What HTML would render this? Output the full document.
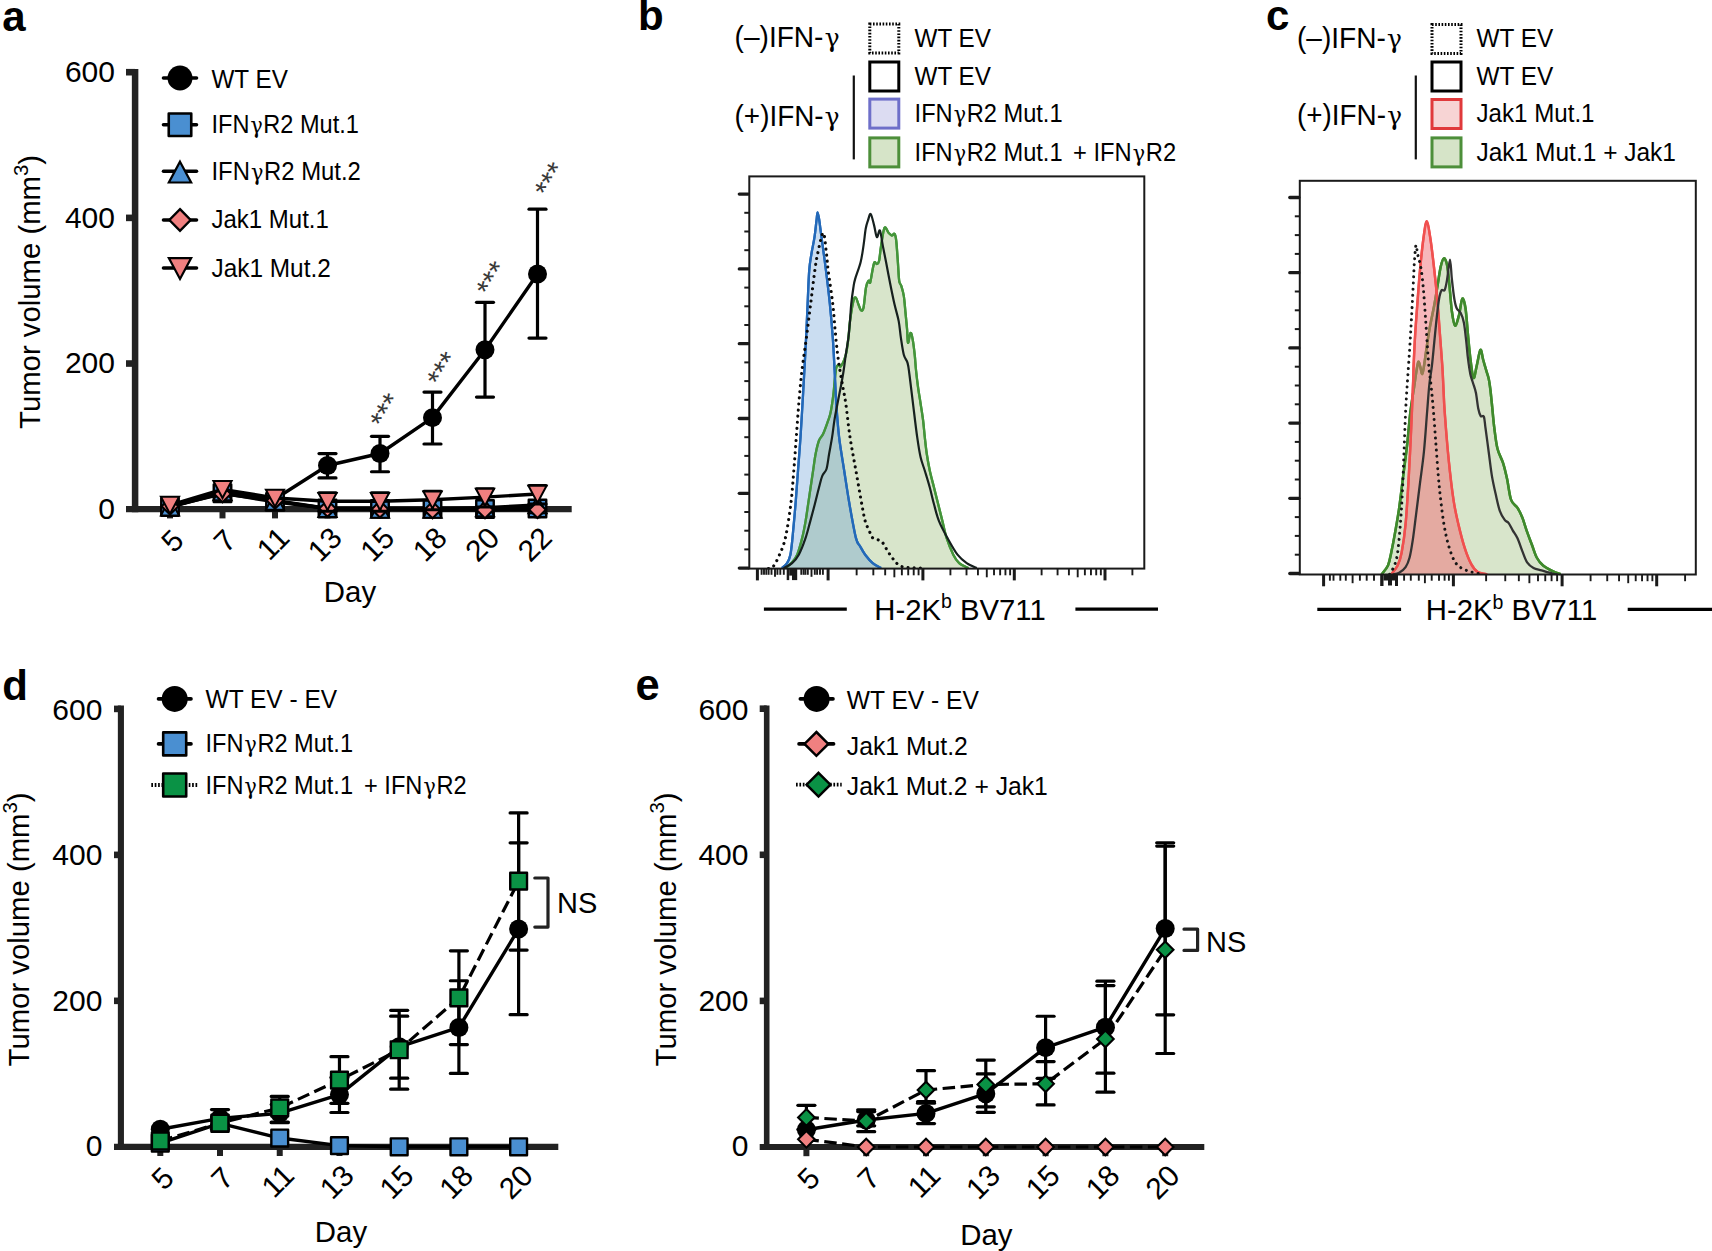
<!DOCTYPE html>
<html lang="en">
<head>
<meta charset="utf-8">
<title>Figure</title>
<style>
html,body{margin:0;padding:0;background:#fff;}
body{width:1712px;height:1251px;overflow:hidden;}
svg{display:block;font-family:'Liberation Sans', Arial, Helvetica, sans-serif;}
</style>
</head>
<body>
<svg width="1712" height="1251" viewBox="0 0 1712 1251">
<rect width="1712" height="1251" fill="#ffffff"/>
<text x="2.2" y="30.8" font-size="42" text-anchor="start" font-weight="bold" fill="#000" >a</text>
<line x1="135.1" y1="68.9" x2="135.1" y2="512.35" stroke="#222222" stroke-width="6.5" />
<line x1="126" y1="509.2" x2="571.7" y2="509.2" stroke="#222222" stroke-width="6.3" />
<text x="115" y="518.5" font-size="30" text-anchor="end" font-weight="normal" fill="#000" >0</text>
<line x1="126" y1="363.53" x2="135.1" y2="363.53" stroke="#222222" stroke-width="6.6" />
<text x="115" y="373.13" font-size="30" text-anchor="end" font-weight="normal" fill="#000" >200</text>
<line x1="126" y1="217.87" x2="135.1" y2="217.87" stroke="#222222" stroke-width="6.6" />
<text x="115" y="227.77" font-size="30" text-anchor="end" font-weight="normal" fill="#000" >400</text>
<line x1="126" y1="72.2" x2="135.1" y2="72.2" stroke="#222222" stroke-width="6.6" />
<text x="115" y="82.4" font-size="30" text-anchor="end" font-weight="normal" fill="#000" >600</text>
<line x1="170" y1="509.2" x2="170" y2="518.4" stroke="#222222" stroke-width="6" />
<text transform="translate(185.4 542.2) rotate(-45)" font-size="29.8" text-anchor="end" fill="#000" >5</text>
<line x1="222.5" y1="509.2" x2="222.5" y2="518.4" stroke="#222222" stroke-width="6" />
<text transform="translate(237.9 542.2) rotate(-45)" font-size="29.8" text-anchor="end" fill="#000" >7</text>
<line x1="275" y1="509.2" x2="275" y2="518.4" stroke="#222222" stroke-width="6" />
<text transform="translate(291.2 539.8) rotate(-45)" font-size="29.8" text-anchor="end" fill="#000" >11</text>
<line x1="327.5" y1="509.2" x2="327.5" y2="518.4" stroke="#222222" stroke-width="6" />
<text transform="translate(343.7 539.8) rotate(-45)" font-size="29.8" text-anchor="end" fill="#000" >13</text>
<line x1="380" y1="509.2" x2="380" y2="518.4" stroke="#222222" stroke-width="6" />
<text transform="translate(396.2 539.8) rotate(-45)" font-size="29.8" text-anchor="end" fill="#000" >15</text>
<line x1="432.5" y1="509.2" x2="432.5" y2="518.4" stroke="#222222" stroke-width="6" />
<text transform="translate(448.7 539.8) rotate(-45)" font-size="29.8" text-anchor="end" fill="#000" >18</text>
<line x1="485" y1="509.2" x2="485" y2="518.4" stroke="#222222" stroke-width="6" />
<text transform="translate(501.2 539.8) rotate(-45)" font-size="29.8" text-anchor="end" fill="#000" >20</text>
<line x1="537.5" y1="509.2" x2="537.5" y2="518.4" stroke="#222222" stroke-width="6" />
<text transform="translate(553.7 539.8) rotate(-45)" font-size="29.8" text-anchor="end" fill="#000" >22</text>
<text transform="translate(40.4 291.9) rotate(-90)" font-size="29.3" text-anchor="middle" fill="#000" >Tumor volume (mm<tspan font-size="20.5" dy="-12">3</tspan><tspan dy="12">)</tspan></text>
<text x="350" y="601.7" font-size="29.4" text-anchor="middle" font-weight="normal" fill="#000" >Day</text>
<line x1="327.5" y1="453.56" x2="327.5" y2="477.88" stroke="#000" stroke-width="3.2" />
<line x1="319" y1="453.56" x2="336" y2="453.56" stroke="#000" stroke-width="3.2" stroke-linecap="round"/>
<line x1="319" y1="477.88" x2="336" y2="477.88" stroke="#000" stroke-width="3.2" stroke-linecap="round"/>
<line x1="380" y1="436.37" x2="380" y2="471.76" stroke="#000" stroke-width="3.2" />
<line x1="371.5" y1="436.37" x2="388.5" y2="436.37" stroke="#000" stroke-width="3.2" stroke-linecap="round"/>
<line x1="371.5" y1="471.76" x2="388.5" y2="471.76" stroke="#000" stroke-width="3.2" stroke-linecap="round"/>
<line x1="432.5" y1="392.08" x2="432.5" y2="444.01" stroke="#000" stroke-width="3.2" />
<line x1="424" y1="392.08" x2="441" y2="392.08" stroke="#000" stroke-width="3.2" stroke-linecap="round"/>
<line x1="424" y1="444.01" x2="441" y2="444.01" stroke="#000" stroke-width="3.2" stroke-linecap="round"/>
<line x1="485" y1="302.35" x2="485" y2="397.04" stroke="#000" stroke-width="3.2" />
<line x1="476.5" y1="302.35" x2="493.5" y2="302.35" stroke="#000" stroke-width="3.2" stroke-linecap="round"/>
<line x1="476.5" y1="397.04" x2="493.5" y2="397.04" stroke="#000" stroke-width="3.2" stroke-linecap="round"/>
<line x1="537.5" y1="209.13" x2="537.5" y2="338.04" stroke="#000" stroke-width="3.2" />
<line x1="529" y1="209.13" x2="546" y2="209.13" stroke="#000" stroke-width="3.2" stroke-linecap="round"/>
<line x1="529" y1="338.04" x2="546" y2="338.04" stroke="#000" stroke-width="3.2" stroke-linecap="round"/>
<path d="M170 505.56 L222.5 491.72 L275 499 L327.5 465.5 L380 453.48 L432.5 417.65 L485 349.69 L537.5 273.95" fill="none" stroke="#000" stroke-width="3.4" stroke-linejoin="round"  />
<circle cx="170" cy="505.56" r="9.5" fill="#000"/>
<circle cx="222.5" cy="491.72" r="9.5" fill="#000"/>
<circle cx="275" cy="499" r="9.5" fill="#000"/>
<circle cx="327.5" cy="465.5" r="9.5" fill="#000"/>
<circle cx="380" cy="453.48" r="9.5" fill="#000"/>
<circle cx="432.5" cy="417.65" r="9.5" fill="#000"/>
<circle cx="485" cy="349.69" r="9.5" fill="#000"/>
<circle cx="537.5" cy="273.95" r="9.5" fill="#000"/>
<path d="M170 507.01 L222.5 493.18 L275 501.92 L327.5 508.47 L380 508.84 L432.5 508.84 L485 508.98 L537.5 508.47" fill="none" stroke="#000" stroke-width="3.4" stroke-linejoin="round"  />
<rect x="161.25" y="498.26" width="17.5" height="17.5" fill="#4a8fd1" stroke="#000" stroke-width="2.4" stroke-linejoin="round"/>
<rect x="213.75" y="484.43" width="17.5" height="17.5" fill="#4a8fd1" stroke="#000" stroke-width="2.4" stroke-linejoin="round"/>
<rect x="266.25" y="493.17" width="17.5" height="17.5" fill="#4a8fd1" stroke="#000" stroke-width="2.4" stroke-linejoin="round"/>
<rect x="318.75" y="499.72" width="17.5" height="17.5" fill="#4a8fd1" stroke="#000" stroke-width="2.4" stroke-linejoin="round"/>
<rect x="371.25" y="500.09" width="17.5" height="17.5" fill="#4a8fd1" stroke="#000" stroke-width="2.4" stroke-linejoin="round"/>
<rect x="423.75" y="500.09" width="17.5" height="17.5" fill="#4a8fd1" stroke="#000" stroke-width="2.4" stroke-linejoin="round"/>
<rect x="476.25" y="500.23" width="17.5" height="17.5" fill="#4a8fd1" stroke="#000" stroke-width="2.4" stroke-linejoin="round"/>
<rect x="528.75" y="499.72" width="17.5" height="17.5" fill="#4a8fd1" stroke="#000" stroke-width="2.4" stroke-linejoin="round"/>
<path d="M170 507.01 L222.5 491.72 L275 501.19 L327.5 508.47 L380 509.2 L432.5 509.2 L485 507.74 L537.5 504.83" fill="none" stroke="#000" stroke-width="3.4" stroke-linejoin="round"  />
<path d="M170 498.51 L179.1 515.51 L160.9 515.51 Z" fill="#4a8fd1" stroke="#000" stroke-width="2" stroke-linejoin="miter" stroke-miterlimit="6"/>
<path d="M222.5 483.22 L231.6 500.22 L213.4 500.22 Z" fill="#4a8fd1" stroke="#000" stroke-width="2" stroke-linejoin="miter" stroke-miterlimit="6"/>
<path d="M275 492.69 L284.1 509.69 L265.9 509.69 Z" fill="#4a8fd1" stroke="#000" stroke-width="2" stroke-linejoin="miter" stroke-miterlimit="6"/>
<path d="M327.5 499.97 L336.6 516.97 L318.4 516.97 Z" fill="#4a8fd1" stroke="#000" stroke-width="2" stroke-linejoin="miter" stroke-miterlimit="6"/>
<path d="M380 500.7 L389.1 517.7 L370.9 517.7 Z" fill="#4a8fd1" stroke="#000" stroke-width="2" stroke-linejoin="miter" stroke-miterlimit="6"/>
<path d="M432.5 500.7 L441.6 517.7 L423.4 517.7 Z" fill="#4a8fd1" stroke="#000" stroke-width="2" stroke-linejoin="miter" stroke-miterlimit="6"/>
<path d="M485 499.24 L494.1 516.24 L475.9 516.24 Z" fill="#4a8fd1" stroke="#000" stroke-width="2" stroke-linejoin="miter" stroke-miterlimit="6"/>
<path d="M537.5 496.33 L546.6 513.33 L528.4 513.33 Z" fill="#4a8fd1" stroke="#000" stroke-width="2" stroke-linejoin="miter" stroke-miterlimit="6"/>
<path d="M170 506.29 L222.5 493.9 L275 500.46 L327.5 508.47 L380 509.2 L432.5 509.93 L485 509.93 L537.5 509.71" fill="none" stroke="#000" stroke-width="3.4" stroke-linejoin="round"  />
<path d="M170 497.99 L178.3 506.29 L170 514.59 L161.7 506.29 Z" fill="#f08080" stroke="#000" stroke-width="2.1" stroke-linejoin="miter" stroke-miterlimit="6"/>
<path d="M222.5 485.6 L230.8 493.9 L222.5 502.2 L214.2 493.9 Z" fill="#f08080" stroke="#000" stroke-width="2.1" stroke-linejoin="miter" stroke-miterlimit="6"/>
<path d="M275 492.16 L283.3 500.46 L275 508.76 L266.7 500.46 Z" fill="#f08080" stroke="#000" stroke-width="2.1" stroke-linejoin="miter" stroke-miterlimit="6"/>
<path d="M327.5 500.17 L335.8 508.47 L327.5 516.77 L319.2 508.47 Z" fill="#f08080" stroke="#000" stroke-width="2.1" stroke-linejoin="miter" stroke-miterlimit="6"/>
<path d="M380 500.9 L388.3 509.2 L380 517.5 L371.7 509.2 Z" fill="#f08080" stroke="#000" stroke-width="2.1" stroke-linejoin="miter" stroke-miterlimit="6"/>
<path d="M432.5 501.63 L440.8 509.93 L432.5 518.23 L424.2 509.93 Z" fill="#f08080" stroke="#000" stroke-width="2.1" stroke-linejoin="miter" stroke-miterlimit="6"/>
<path d="M485 501.63 L493.3 509.93 L485 518.23 L476.7 509.93 Z" fill="#f08080" stroke="#000" stroke-width="2.1" stroke-linejoin="miter" stroke-miterlimit="6"/>
<path d="M537.5 501.41 L545.8 509.71 L537.5 518.01 L529.2 509.71 Z" fill="#f08080" stroke="#000" stroke-width="2.1" stroke-linejoin="miter" stroke-miterlimit="6"/>
<line x1="327.5" y1="492.79" x2="327.5" y2="511.19" stroke="#000" stroke-width="3" />
<line x1="318.85" y1="492.79" x2="336.15" y2="492.79" stroke="#000" stroke-width="3" stroke-linecap="round"/>
<line x1="318.85" y1="511.19" x2="336.15" y2="511.19" stroke="#000" stroke-width="3" stroke-linecap="round"/>
<line x1="380" y1="492.79" x2="380" y2="511.19" stroke="#000" stroke-width="3" />
<line x1="371.35" y1="492.79" x2="388.65" y2="492.79" stroke="#000" stroke-width="3" stroke-linecap="round"/>
<line x1="371.35" y1="511.19" x2="388.65" y2="511.19" stroke="#000" stroke-width="3" stroke-linecap="round"/>
<line x1="432.5" y1="491.33" x2="432.5" y2="509.73" stroke="#000" stroke-width="3" />
<line x1="423.85" y1="491.33" x2="441.15" y2="491.33" stroke="#000" stroke-width="3" stroke-linecap="round"/>
<line x1="423.85" y1="509.73" x2="441.15" y2="509.73" stroke="#000" stroke-width="3" stroke-linecap="round"/>
<line x1="485" y1="488.71" x2="485" y2="507.11" stroke="#000" stroke-width="3" />
<line x1="476.35" y1="488.71" x2="493.65" y2="488.71" stroke="#000" stroke-width="3" stroke-linecap="round"/>
<line x1="476.35" y1="507.11" x2="493.65" y2="507.11" stroke="#000" stroke-width="3" stroke-linecap="round"/>
<line x1="537.5" y1="485.58" x2="537.5" y2="503.98" stroke="#000" stroke-width="3" />
<line x1="528.85" y1="485.58" x2="546.15" y2="485.58" stroke="#000" stroke-width="3" stroke-linecap="round"/>
<line x1="528.85" y1="503.98" x2="546.15" y2="503.98" stroke="#000" stroke-width="3" stroke-linecap="round"/>
<path d="M170 505.12 L222.5 489.32 L275 497.98 L327.5 501.19 L380 501.19 L432.5 499.73 L485 497.11 L537.5 493.98" fill="none" stroke="#000" stroke-width="3.4" stroke-linejoin="round"  />
<path d="M160.9 496.82 L179.1 496.82 L170 513.82 Z" fill="#f08080" stroke="#000" stroke-width="2" stroke-linejoin="miter" stroke-miterlimit="6"/>
<path d="M213.4 481.02 L231.6 481.02 L222.5 498.02 Z" fill="#f08080" stroke="#000" stroke-width="2" stroke-linejoin="miter" stroke-miterlimit="6"/>
<path d="M265.9 489.68 L284.1 489.68 L275 506.68 Z" fill="#f08080" stroke="#000" stroke-width="2" stroke-linejoin="miter" stroke-miterlimit="6"/>
<path d="M318.4 492.89 L336.6 492.89 L327.5 509.89 Z" fill="#f08080" stroke="#000" stroke-width="2" stroke-linejoin="miter" stroke-miterlimit="6"/>
<path d="M370.9 492.89 L389.1 492.89 L380 509.89 Z" fill="#f08080" stroke="#000" stroke-width="2" stroke-linejoin="miter" stroke-miterlimit="6"/>
<path d="M423.4 491.43 L441.6 491.43 L432.5 508.43 Z" fill="#f08080" stroke="#000" stroke-width="2" stroke-linejoin="miter" stroke-miterlimit="6"/>
<path d="M475.9 488.81 L494.1 488.81 L485 505.81 Z" fill="#f08080" stroke="#000" stroke-width="2" stroke-linejoin="miter" stroke-miterlimit="6"/>
<path d="M528.4 485.68 L546.6 485.68 L537.5 502.68 Z" fill="#f08080" stroke="#000" stroke-width="2" stroke-linejoin="miter" stroke-miterlimit="6"/>
<text transform="translate(380.1 407.4) rotate(-59)" font-size="29.5" text-anchor="middle" fill="#3a3a3a" y="17.2">***</text>
<text transform="translate(437.2 365.7) rotate(-59)" font-size="29.5" text-anchor="middle" fill="#3a3a3a" y="17.2">***</text>
<text transform="translate(486.3 275.4) rotate(-59)" font-size="29.5" text-anchor="middle" fill="#3a3a3a" y="17.2">***</text>
<text transform="translate(544.6 176.4) rotate(-59)" font-size="29.5" text-anchor="middle" fill="#3a3a3a" y="17.2">***</text>
<line x1="163.5" y1="78" x2="196.5" y2="78" stroke="#000" stroke-width="3.6" stroke-linecap="round"/>
<circle cx="180" cy="78" r="12.5" fill="#000"/>
<text x="211.5" y="87.6" font-size="25" text-anchor="start" font-weight="normal" fill="#000" textLength="76.3" lengthAdjust="spacingAndGlyphs" >WT EV</text>
<line x1="163.5" y1="124.8" x2="196.5" y2="124.8" stroke="#000" stroke-width="3.6" stroke-linecap="round"/>
<rect x="168.75" y="113.55" width="22.5" height="22.5" fill="#4a8fd1" stroke="#000" stroke-width="2.6" stroke-linejoin="round"/>
<text x="211.5" y="132.6" font-size="25" text-anchor="start" font-weight="normal" fill="#000" textLength="147.3" lengthAdjust="spacingAndGlyphs" >IFN<tspan font-family="'DejaVu Math TeX Gyre', 'DejaVu Serif', serif" font-size="22">γ</tspan>R2 Mut.1</text>
<line x1="163.5" y1="171.3" x2="196.5" y2="171.3" stroke="#000" stroke-width="3.6" stroke-linecap="round"/>
<path d="M180 161.7 L191.15 182.5 L168.85 182.5 Z" fill="#4a8fd1" stroke="#000" stroke-width="2.2" stroke-linejoin="miter" stroke-miterlimit="6"/>
<text x="211.5" y="180.2" font-size="25" text-anchor="start" font-weight="normal" fill="#000" textLength="149.3" lengthAdjust="spacingAndGlyphs" >IFN<tspan font-family="'DejaVu Math TeX Gyre', 'DejaVu Serif', serif" font-size="22">γ</tspan>R2 Mut.2</text>
<line x1="163.5" y1="220" x2="196.5" y2="220" stroke="#000" stroke-width="3.6" stroke-linecap="round"/>
<path d="M180 209.2 L190.6 220 L180 230.8 L169.4 220 Z" fill="#f08080" stroke="#000" stroke-width="2.4" stroke-linejoin="miter" stroke-miterlimit="6"/>
<text x="211.5" y="228.4" font-size="25" text-anchor="start" font-weight="normal" fill="#000" textLength="117.3" lengthAdjust="spacingAndGlyphs" >Jak1 Mut.1</text>
<line x1="163.5" y1="268" x2="196.5" y2="268" stroke="#000" stroke-width="3.6" stroke-linecap="round"/>
<path d="M168.85 258.1 L191.15 258.1 L180 278.9 Z" fill="#f08080" stroke="#000" stroke-width="2.2" stroke-linejoin="miter" stroke-miterlimit="6"/>
<text x="211.5" y="276.8" font-size="25" text-anchor="start" font-weight="normal" fill="#000" textLength="119.3" lengthAdjust="spacingAndGlyphs" >Jak1 Mut.2</text>
<text x="638" y="29.8" font-size="42" font-weight="bold">b</text>
<clipPath id="cb"><rect x="749.3" y="176.4" width="395" height="393.2"/></clipPath>
<g clip-path="url(#cb)">
<path d="M785.4 568.1 C786.38 567.27 789.33 565.33 791.3 563.1 C793.27 560.87 795.38 558.9 797.2 554.7 C799.02 550.5 800.8 543.5 802.2 537.9 C803.6 532.3 804.62 526.7 805.6 521.1 C806.58 515.5 807.27 509.9 808.1 504.3 C808.93 498.7 809.77 493.1 810.6 487.5 C811.43 481.9 812.27 476.28 813.1 470.7 C813.93 465.12 814.62 459.03 815.6 454 C816.58 448.97 817.73 443.87 819 440.5 C820.27 437.13 821.67 437.15 823.2 433.8 C824.73 430.45 826.95 424.03 828.2 420.4 C829.45 416.77 829.85 416.2 830.7 412 C831.55 407.8 832.6 400.8 833.3 395.2 C834 389.6 834.42 382.93 834.9 378.4 C835.38 373.87 835.63 370.27 836.2 368 C836.77 365.73 837.5 365.13 838.3 364.8 C839.1 364.47 839.75 367.68 841 366 C842.25 364.32 844.57 359.38 845.8 354.7 C847.03 350.02 847.7 343.5 848.4 337.9 C849.1 332.3 849.17 327.25 850 321.1 C850.83 314.95 852.42 304.92 853.4 301 C854.38 297.08 855.07 297.05 855.9 297.6 C856.73 298.15 857.55 302.2 858.4 304.3 C859.25 306.4 860.15 309.63 861 310.2 C861.85 310.77 862.67 311.48 863.5 307.7 C864.33 303.92 865.17 291.98 866 287.5 C866.83 283.02 867.8 281.63 868.5 280.8 C869.2 279.97 869.55 284.18 870.2 282.5 C870.85 280.82 871.7 274.07 872.4 270.7 C873.1 267.33 873.65 263.42 874.4 262.3 C875.15 261.18 876.12 264.27 876.9 264 C877.68 263.73 878.4 263.77 879.1 260.7 C879.8 257.63 880.2 251.07 881.1 245.6 C882 240.13 883.23 230 884.5 227.9 C885.77 225.8 887.45 231.73 888.7 233 C889.95 234.27 891.03 235.37 892 235.5 C892.97 235.63 893.8 232.97 894.5 233.8 C895.2 234.63 895.63 235.75 896.2 240.5 C896.77 245.25 897.4 255.58 897.9 262.3 C898.4 269.02 898.63 276.87 899.2 280.8 C899.77 284.73 900.53 283.38 901.3 285.9 C902.07 288.42 903.1 291.43 903.8 295.9 C904.5 300.37 904.95 307.1 905.5 312.7 C906.05 318.3 906.68 324.47 907.1 329.5 C907.52 334.53 907.43 342.33 908 342.9 C908.57 343.47 909.72 333.45 910.5 332.9 C911.28 332.35 912 335.97 912.7 339.6 C913.4 343.23 914.15 349.63 914.7 354.7 C915.25 359.77 915.45 364.65 916 370 C916.55 375.35 917.23 381.2 918 386.8 C918.77 392.4 919.75 398 920.6 403.6 C921.45 409.2 922.4 414.8 923.1 420.4 C923.8 426 924.18 431.6 924.8 437.2 C925.42 442.8 925.97 448.42 926.8 454 C927.63 459.58 928.6 465.12 929.8 470.7 C931 476.28 932.6 481.9 934 487.5 C935.4 493.1 936.8 498.7 938.2 504.3 C939.6 509.9 941 515.5 942.4 521.1 C943.8 526.7 944.78 532.3 946.6 537.9 C948.42 543.5 951.2 550.5 953.3 554.7 C955.4 558.9 956.68 560.87 959.2 563.1 C961.72 565.33 966.87 567.27 968.4 568.1 L968.4 568.6 L785.4 568.6 Z" fill="#d8e5cb" fill-opacity="1" stroke="none"/>
<path d="M785.4 568.1 C786.38 567.27 789.33 565.33 791.3 563.1 C793.27 560.87 795.38 558.9 797.2 554.7 C799.02 550.5 800.8 543.5 802.2 537.9 C803.6 532.3 804.62 526.7 805.6 521.1 C806.58 515.5 807.27 509.9 808.1 504.3 C808.93 498.7 809.77 493.1 810.6 487.5 C811.43 481.9 812.27 476.28 813.1 470.7 C813.93 465.12 814.62 459.03 815.6 454 C816.58 448.97 817.73 443.87 819 440.5 C820.27 437.13 821.67 437.15 823.2 433.8 C824.73 430.45 826.95 424.03 828.2 420.4 C829.45 416.77 829.85 416.2 830.7 412 C831.55 407.8 832.6 400.8 833.3 395.2 C834 389.6 834.42 382.93 834.9 378.4 C835.38 373.87 835.63 370.27 836.2 368 C836.77 365.73 837.5 365.13 838.3 364.8 C839.1 364.47 839.75 367.68 841 366 C842.25 364.32 844.57 359.38 845.8 354.7 C847.03 350.02 847.7 343.5 848.4 337.9 C849.1 332.3 849.17 327.25 850 321.1 C850.83 314.95 852.42 304.92 853.4 301 C854.38 297.08 855.07 297.05 855.9 297.6 C856.73 298.15 857.55 302.2 858.4 304.3 C859.25 306.4 860.15 309.63 861 310.2 C861.85 310.77 862.67 311.48 863.5 307.7 C864.33 303.92 865.17 291.98 866 287.5 C866.83 283.02 867.8 281.63 868.5 280.8 C869.2 279.97 869.55 284.18 870.2 282.5 C870.85 280.82 871.7 274.07 872.4 270.7 C873.1 267.33 873.65 263.42 874.4 262.3 C875.15 261.18 876.12 264.27 876.9 264 C877.68 263.73 878.4 263.77 879.1 260.7 C879.8 257.63 880.2 251.07 881.1 245.6 C882 240.13 883.23 230 884.5 227.9 C885.77 225.8 887.45 231.73 888.7 233 C889.95 234.27 891.03 235.37 892 235.5 C892.97 235.63 893.8 232.97 894.5 233.8 C895.2 234.63 895.63 235.75 896.2 240.5 C896.77 245.25 897.4 255.58 897.9 262.3 C898.4 269.02 898.63 276.87 899.2 280.8 C899.77 284.73 900.53 283.38 901.3 285.9 C902.07 288.42 903.1 291.43 903.8 295.9 C904.5 300.37 904.95 307.1 905.5 312.7 C906.05 318.3 906.68 324.47 907.1 329.5 C907.52 334.53 907.43 342.33 908 342.9 C908.57 343.47 909.72 333.45 910.5 332.9 C911.28 332.35 912 335.97 912.7 339.6 C913.4 343.23 914.15 349.63 914.7 354.7 C915.25 359.77 915.45 364.65 916 370 C916.55 375.35 917.23 381.2 918 386.8 C918.77 392.4 919.75 398 920.6 403.6 C921.45 409.2 922.4 414.8 923.1 420.4 C923.8 426 924.18 431.6 924.8 437.2 C925.42 442.8 925.97 448.42 926.8 454 C927.63 459.58 928.6 465.12 929.8 470.7 C931 476.28 932.6 481.9 934 487.5 C935.4 493.1 936.8 498.7 938.2 504.3 C939.6 509.9 941 515.5 942.4 521.1 C943.8 526.7 944.78 532.3 946.6 537.9 C948.42 543.5 951.2 550.5 953.3 554.7 C955.4 558.9 956.68 560.87 959.2 563.1 C961.72 565.33 966.87 567.27 968.4 568.1" fill="none" stroke="#44953a" stroke-width="2.3" stroke-linejoin="round"/>
<path d="M782 568.1 C782.85 567.27 785.7 565.33 787.1 563.1 C788.5 560.87 789.5 558.9 790.4 554.7 C791.3 550.5 791.65 546.3 792.5 537.9 C793.35 529.5 794.58 515.5 795.5 504.3 C796.42 493.1 797.17 481.88 798 470.7 C798.83 459.52 799.75 448.38 800.5 437.2 C801.25 426.02 801.85 414.8 802.5 403.6 C803.15 392.4 803.8 380.95 804.4 370 C805 359.05 805.57 348.85 806.1 337.9 C806.63 326.95 807.08 315.5 807.6 304.3 C808.12 293.1 808.57 279.08 809.2 270.7 C809.83 262.32 810.52 259.58 811.4 254 C812.28 248.42 813.65 242.8 814.5 237.2 C815.35 231.6 815.98 224.55 816.5 220.4 C817.02 216.25 817.13 212.3 817.6 212.3 C818.07 212.3 818.65 216.25 819.3 220.4 C819.95 224.55 820.38 228.82 821.5 237.2 C822.62 245.58 824.6 259.52 826 270.7 C827.4 281.88 828.77 293.1 829.9 304.3 C831.03 315.5 832.02 326.95 832.8 337.9 C833.58 348.85 834.02 359.05 834.6 370 C835.18 380.95 835.55 392.4 836.3 403.6 C837.05 414.8 837.78 426.02 839.1 437.2 C840.42 448.38 842.47 459.52 844.2 470.7 C845.93 481.88 847.55 493.1 849.5 504.3 C851.45 515.5 854.13 530.9 855.9 537.9 C857.67 544.9 858.55 543.5 860.1 546.3 C861.65 549.1 863.1 551.9 865.2 554.7 C867.3 557.5 870.05 560.87 872.7 563.1 C875.35 565.33 879.7 567.27 881.1 568.1 L881.1 568.6 L782 568.6 Z" fill="#5a96d2" fill-opacity="0.32" stroke="none"/>
<path d="M782 568.1 C782.85 567.27 785.7 565.33 787.1 563.1 C788.5 560.87 789.5 558.9 790.4 554.7 C791.3 550.5 791.65 546.3 792.5 537.9 C793.35 529.5 794.58 515.5 795.5 504.3 C796.42 493.1 797.17 481.88 798 470.7 C798.83 459.52 799.75 448.38 800.5 437.2 C801.25 426.02 801.85 414.8 802.5 403.6 C803.15 392.4 803.8 380.95 804.4 370 C805 359.05 805.57 348.85 806.1 337.9 C806.63 326.95 807.08 315.5 807.6 304.3 C808.12 293.1 808.57 279.08 809.2 270.7 C809.83 262.32 810.52 259.58 811.4 254 C812.28 248.42 813.65 242.8 814.5 237.2 C815.35 231.6 815.98 224.55 816.5 220.4 C817.02 216.25 817.13 212.3 817.6 212.3 C818.07 212.3 818.65 216.25 819.3 220.4 C819.95 224.55 820.38 228.82 821.5 237.2 C822.62 245.58 824.6 259.52 826 270.7 C827.4 281.88 828.77 293.1 829.9 304.3 C831.03 315.5 832.02 326.95 832.8 337.9 C833.58 348.85 834.02 359.05 834.6 370 C835.18 380.95 835.55 392.4 836.3 403.6 C837.05 414.8 837.78 426.02 839.1 437.2 C840.42 448.38 842.47 459.52 844.2 470.7 C845.93 481.88 847.55 493.1 849.5 504.3 C851.45 515.5 854.13 530.9 855.9 537.9 C857.67 544.9 858.55 543.5 860.1 546.3 C861.65 549.1 863.1 551.9 865.2 554.7 C867.3 557.5 870.05 560.87 872.7 563.1 C875.35 565.33 879.7 567.27 881.1 568.1" fill="none" stroke="#2369b9" stroke-width="2.3" stroke-linejoin="round"/>
<path d="M785.4 568.1 C786.38 567.27 789.33 565.33 791.3 563.1 C793.27 560.87 795.38 558.9 797.2 554.7 C799.02 550.5 800.8 543.5 802.2 537.9 C803.6 532.3 804.62 526.7 805.6 521.1 C806.58 515.5 807.27 509.9 808.1 504.3 C808.93 498.7 809.77 493.1 810.6 487.5 C811.43 481.9 812.27 476.28 813.1 470.7 C813.93 465.12 814.62 459.03 815.6 454 C816.58 448.97 817.73 443.87 819 440.5 C820.27 437.13 821.67 437.15 823.2 433.8 C824.73 430.45 826.95 424.03 828.2 420.4 C829.45 416.77 829.85 416.2 830.7 412 C831.55 407.8 832.6 400.8 833.3 395.2 C834 389.6 834.42 382.93 834.9 378.4 C835.38 373.87 835.63 370.27 836.2 368 C836.77 365.73 837.5 365.13 838.3 364.8 C839.1 364.47 839.75 367.68 841 366 C842.25 364.32 844.57 359.38 845.8 354.7 C847.03 350.02 847.7 343.5 848.4 337.9 C849.1 332.3 849.17 327.25 850 321.1 C850.83 314.95 852.42 304.92 853.4 301 C854.38 297.08 855.07 297.05 855.9 297.6 C856.73 298.15 857.55 302.2 858.4 304.3 C859.25 306.4 860.15 309.63 861 310.2 C861.85 310.77 862.67 311.48 863.5 307.7 C864.33 303.92 865.17 291.98 866 287.5 C866.83 283.02 867.8 281.63 868.5 280.8 C869.2 279.97 869.55 284.18 870.2 282.5 C870.85 280.82 871.7 274.07 872.4 270.7 C873.1 267.33 873.65 263.42 874.4 262.3 C875.15 261.18 876.12 264.27 876.9 264 C877.68 263.73 878.4 263.77 879.1 260.7 C879.8 257.63 880.2 251.07 881.1 245.6 C882 240.13 883.23 230 884.5 227.9 C885.77 225.8 887.45 231.73 888.7 233 C889.95 234.27 891.03 235.37 892 235.5 C892.97 235.63 893.8 232.97 894.5 233.8 C895.2 234.63 895.63 235.75 896.2 240.5 C896.77 245.25 897.4 255.58 897.9 262.3 C898.4 269.02 898.63 276.87 899.2 280.8 C899.77 284.73 900.53 283.38 901.3 285.9 C902.07 288.42 903.1 291.43 903.8 295.9 C904.5 300.37 904.95 307.1 905.5 312.7 C906.05 318.3 906.68 324.47 907.1 329.5 C907.52 334.53 907.43 342.33 908 342.9 C908.57 343.47 909.72 333.45 910.5 332.9 C911.28 332.35 912 335.97 912.7 339.6 C913.4 343.23 914.15 349.63 914.7 354.7 C915.25 359.77 915.45 364.65 916 370 C916.55 375.35 917.23 381.2 918 386.8 C918.77 392.4 919.75 398 920.6 403.6 C921.45 409.2 922.4 414.8 923.1 420.4 C923.8 426 924.18 431.6 924.8 437.2 C925.42 442.8 925.97 448.42 926.8 454 C927.63 459.58 928.6 465.12 929.8 470.7 C931 476.28 932.6 481.9 934 487.5 C935.4 493.1 936.8 498.7 938.2 504.3 C939.6 509.9 941 515.5 942.4 521.1 C943.8 526.7 944.78 532.3 946.6 537.9 C948.42 543.5 951.2 550.5 953.3 554.7 C955.4 558.9 956.68 560.87 959.2 563.1 C961.72 565.33 966.87 567.27 968.4 568.1" fill="none" stroke="#44953a" stroke-width="2.3" stroke-linejoin="round"/>
<path d="M782 568.1 C782.85 567.27 785.7 565.33 787.1 563.1 C788.5 560.87 789.5 558.9 790.4 554.7 C791.3 550.5 791.65 546.3 792.5 537.9 C793.35 529.5 794.58 515.5 795.5 504.3 C796.42 493.1 797.17 481.88 798 470.7 C798.83 459.52 799.75 448.38 800.5 437.2 C801.25 426.02 801.85 414.8 802.5 403.6 C803.15 392.4 803.8 380.95 804.4 370 C805 359.05 805.57 348.85 806.1 337.9 C806.63 326.95 807.08 315.5 807.6 304.3 C808.12 293.1 808.57 279.08 809.2 270.7 C809.83 262.32 810.52 259.58 811.4 254 C812.28 248.42 813.65 242.8 814.5 237.2 C815.35 231.6 815.98 224.55 816.5 220.4 C817.02 216.25 817.13 212.3 817.6 212.3 C818.07 212.3 818.65 216.25 819.3 220.4 C819.95 224.55 820.38 228.82 821.5 237.2 C822.62 245.58 824.6 259.52 826 270.7 C827.4 281.88 828.77 293.1 829.9 304.3 C831.03 315.5 832.02 326.95 832.8 337.9 C833.58 348.85 834.02 359.05 834.6 370 C835.18 380.95 835.55 392.4 836.3 403.6 C837.05 414.8 837.78 426.02 839.1 437.2 C840.42 448.38 842.47 459.52 844.2 470.7 C845.93 481.88 847.55 493.1 849.5 504.3 C851.45 515.5 854.13 530.9 855.9 537.9 C857.67 544.9 858.55 543.5 860.1 546.3 C861.65 549.1 863.1 551.9 865.2 554.7 C867.3 557.5 870.05 560.87 872.7 563.1 C875.35 565.33 879.7 567.27 881.1 568.1" fill="none" stroke="#2369b9" stroke-width="2.3" stroke-linejoin="round"/>
<path d="M783.7 568.1 C785.1 567.27 789.58 565.33 792.1 563.1 C794.62 560.87 796.55 558.9 798.8 554.7 C801.05 550.5 803.68 543.5 805.6 537.9 C807.52 532.3 808.77 526.7 810.3 521.1 C811.83 515.5 813.35 509.9 814.8 504.3 C816.25 498.7 817.75 492.25 819 487.5 C820.25 482.75 821.05 478.88 822.3 475.8 C823.55 472.72 825.37 472.63 826.5 469 C827.63 465.37 828.17 459.3 829.1 454 C830.03 448.7 831.22 442.8 832.1 437.2 C832.98 431.6 833.5 426 834.4 420.4 C835.3 414.8 836.43 409.2 837.5 403.6 C838.57 398 839.8 392.15 840.8 386.8 C841.8 381.45 842.67 376.85 843.5 371.5 C844.33 366.15 844.98 360.3 845.8 354.7 C846.62 349.1 847.7 343.5 848.4 337.9 C849.1 332.3 849.53 326.7 850 321.1 C850.47 315.5 850.63 309.9 851.2 304.3 C851.77 298.7 852.75 291.7 853.4 287.5 C854.05 283.3 853.9 283.3 855.1 279.1 C856.3 274.9 859.2 267.88 860.6 262.3 C862 256.72 862.65 251.18 863.5 245.6 C864.35 240.02 864.95 233 865.7 228.8 C866.45 224.6 867.17 222.87 868 220.4 C868.83 217.93 869.68 213.17 870.7 214 C871.72 214.83 873.07 221.53 874.1 225.4 C875.13 229.27 875.93 236.37 876.9 237.2 C877.87 238.03 878.92 229 879.9 230.4 C880.88 231.8 881.77 240.28 882.8 245.6 C883.83 250.92 884.85 255.87 886.1 262.3 C887.35 268.73 888.9 277.2 890.3 284.2 C891.7 291.2 893.1 298.15 894.5 304.3 C895.9 310.45 897.63 315.5 898.7 321.1 C899.77 326.7 900.05 332.3 900.9 337.9 C901.75 343.5 902.68 350.5 903.8 354.7 C904.92 358.9 906.65 359.72 907.6 363.1 C908.55 366.48 908.6 368.25 909.5 375 C910.4 381.75 911.72 393.23 913 403.6 C914.28 413.97 915.93 428.25 917.2 437.2 C918.47 446.15 919.33 451.72 920.6 457.3 C921.87 462.88 923.27 465.67 924.8 470.7 C926.33 475.73 928.27 481.9 929.8 487.5 C931.33 493.1 932.47 498.7 934 504.3 C935.53 509.9 936.77 515.5 939 521.1 C941.23 526.7 944.32 532.3 947.4 537.9 C950.48 543.5 954.28 550.5 957.5 554.7 C960.72 558.9 963.48 560.87 966.7 563.1 C969.92 565.33 975.12 567.27 976.8 568.1" fill="none" stroke="#16201e" stroke-width="2.2" stroke-linejoin="round"/>
<path d="M768.6 568.5 C769.38 568.15 771.48 568.7 773.3 566.4 C775.12 564.1 777.48 559.45 779.5 554.7 C781.52 549.95 783.52 546.3 785.4 537.9 C787.28 529.5 789.4 515.5 790.8 504.3 C792.2 493.1 792.88 481.88 793.8 470.7 C794.72 459.52 795.47 448.38 796.3 437.2 C797.13 426.02 797.85 414.8 798.8 403.6 C799.75 392.4 800.73 380.95 802 370 C803.27 359.05 804.97 348.85 806.4 337.9 C807.83 326.95 809.2 315.5 810.6 304.3 C812 293.1 813.63 279.08 814.8 270.7 C815.97 262.32 816.2 260.28 817.6 254 C819 247.72 821.72 233 823.2 233 C824.68 233 825.67 247.72 826.5 254 C827.33 260.28 827.15 262.32 828.2 270.7 C829.25 279.08 831.53 293.1 832.8 304.3 C834.07 315.5 834.8 328.1 835.8 337.9 C836.8 347.7 837.63 354.95 838.8 363.1 C839.97 371.25 841.63 380.05 842.8 386.8 C843.97 393.55 844.6 395.2 845.8 403.6 C847 412 848.32 426.02 850 437.2 C851.68 448.38 853.93 459.52 855.9 470.7 C857.87 481.88 860.25 495.9 861.8 504.3 C863.35 512.7 863.93 516.62 865.2 521.1 C866.47 525.58 868.15 528.4 869.4 531.2 C870.65 534 871.32 536.5 872.7 537.9 C874.08 539.3 876.02 538.77 877.7 539.6 C879.38 540.43 881.12 540.95 882.8 542.9 C884.48 544.85 885.98 548.5 887.8 551.3 C889.62 554.1 891.73 557.32 893.7 559.7 C895.67 562.08 897.22 564.28 899.6 565.6 C901.98 566.92 903.77 567.2 908 567.6 C912.23 568 922.17 567.93 925 568" fill="none" stroke="#0a0a0a" stroke-width="3.1" stroke-linejoin="round" stroke-dasharray="0.01 6.1" stroke-linecap="round"/>
</g>
<rect x="749.3" y="176.4" width="395" height="392.2" fill="none" stroke="#1a1a1a" stroke-width="2" />
<line x1="739.3" y1="568.1" x2="748.3" y2="568.1" stroke="#1a1a1a" stroke-width="3.3" stroke-linecap="round"/>
<line x1="744.3" y1="549.4" x2="749.3" y2="549.4" stroke="#1a1a1a" stroke-width="2" />
<line x1="744.3" y1="530.7" x2="749.3" y2="530.7" stroke="#1a1a1a" stroke-width="2" />
<line x1="744.3" y1="512" x2="749.3" y2="512" stroke="#1a1a1a" stroke-width="2" />
<line x1="739.3" y1="493.3" x2="748.3" y2="493.3" stroke="#1a1a1a" stroke-width="3.3" stroke-linecap="round"/>
<line x1="744.3" y1="474.6" x2="749.3" y2="474.6" stroke="#1a1a1a" stroke-width="2" />
<line x1="744.3" y1="455.9" x2="749.3" y2="455.9" stroke="#1a1a1a" stroke-width="2" />
<line x1="744.3" y1="437.2" x2="749.3" y2="437.2" stroke="#1a1a1a" stroke-width="2" />
<line x1="739.3" y1="418.5" x2="748.3" y2="418.5" stroke="#1a1a1a" stroke-width="3.3" stroke-linecap="round"/>
<line x1="744.3" y1="399.8" x2="749.3" y2="399.8" stroke="#1a1a1a" stroke-width="2" />
<line x1="744.3" y1="381.1" x2="749.3" y2="381.1" stroke="#1a1a1a" stroke-width="2" />
<line x1="744.3" y1="362.4" x2="749.3" y2="362.4" stroke="#1a1a1a" stroke-width="2" />
<line x1="739.3" y1="343.7" x2="748.3" y2="343.7" stroke="#1a1a1a" stroke-width="3.3" stroke-linecap="round"/>
<line x1="744.3" y1="325" x2="749.3" y2="325" stroke="#1a1a1a" stroke-width="2" />
<line x1="744.3" y1="306.3" x2="749.3" y2="306.3" stroke="#1a1a1a" stroke-width="2" />
<line x1="744.3" y1="287.6" x2="749.3" y2="287.6" stroke="#1a1a1a" stroke-width="2" />
<line x1="739.3" y1="268.9" x2="748.3" y2="268.9" stroke="#1a1a1a" stroke-width="3.3" stroke-linecap="round"/>
<line x1="744.3" y1="250.2" x2="749.3" y2="250.2" stroke="#1a1a1a" stroke-width="2" />
<line x1="744.3" y1="231.5" x2="749.3" y2="231.5" stroke="#1a1a1a" stroke-width="2" />
<line x1="744.3" y1="212.8" x2="749.3" y2="212.8" stroke="#1a1a1a" stroke-width="2" />
<line x1="739.3" y1="194.1" x2="748.3" y2="194.1" stroke="#1a1a1a" stroke-width="3.3" stroke-linecap="round"/>
<line x1="757.4" y1="568.6" x2="757.4" y2="580.4" stroke="#1a1a1a" stroke-width="3" />
<line x1="828.1" y1="568.6" x2="828.1" y2="580.4" stroke="#1a1a1a" stroke-width="3" />
<line x1="922.9" y1="568.6" x2="922.9" y2="580.4" stroke="#1a1a1a" stroke-width="3" />
<line x1="1014.3" y1="568.6" x2="1014.3" y2="580.4" stroke="#1a1a1a" stroke-width="3" />
<line x1="1105" y1="568.6" x2="1105" y2="580.4" stroke="#1a1a1a" stroke-width="3" />
<line x1="761.6" y1="568.6" x2="761.6" y2="574.8" stroke="#1a1a1a" stroke-width="1.9" />
<line x1="764" y1="568.6" x2="764" y2="574.8" stroke="#1a1a1a" stroke-width="1.9" />
<line x1="766.3" y1="568.6" x2="766.3" y2="574.8" stroke="#1a1a1a" stroke-width="1.9" />
<line x1="768.6" y1="568.6" x2="768.6" y2="574.8" stroke="#1a1a1a" stroke-width="1.9" />
<line x1="771.5" y1="568.6" x2="771.5" y2="574.8" stroke="#1a1a1a" stroke-width="1.9" />
<line x1="775" y1="568.6" x2="775" y2="576.8" stroke="#1a1a1a" stroke-width="1.9" />
<line x1="777.4" y1="568.6" x2="777.4" y2="574.8" stroke="#1a1a1a" stroke-width="1.9" />
<line x1="780.3" y1="568.6" x2="780.3" y2="574.8" stroke="#1a1a1a" stroke-width="1.9" />
<line x1="783.8" y1="568.6" x2="783.8" y2="574.8" stroke="#1a1a1a" stroke-width="1.9" />
<line x1="801.3" y1="568.6" x2="801.3" y2="574.8" stroke="#1a1a1a" stroke-width="1.9" />
<line x1="803.6" y1="568.6" x2="803.6" y2="574.8" stroke="#1a1a1a" stroke-width="1.9" />
<line x1="805.4" y1="568.6" x2="805.4" y2="574.8" stroke="#1a1a1a" stroke-width="1.9" />
<line x1="807.8" y1="568.6" x2="807.8" y2="574.8" stroke="#1a1a1a" stroke-width="1.9" />
<line x1="811.5" y1="568.6" x2="811.5" y2="576.8" stroke="#1a1a1a" stroke-width="1.9" />
<line x1="814.8" y1="568.6" x2="814.8" y2="574.8" stroke="#1a1a1a" stroke-width="1.9" />
<line x1="817.1" y1="568.6" x2="817.1" y2="574.8" stroke="#1a1a1a" stroke-width="1.9" />
<line x1="820" y1="568.6" x2="820" y2="574.8" stroke="#1a1a1a" stroke-width="1.9" />
<line x1="822.9" y1="568.6" x2="822.9" y2="574.8" stroke="#1a1a1a" stroke-width="1.9" />
<line x1="856.64" y1="568.6" x2="856.64" y2="575.3" stroke="#1a1a1a" stroke-width="1.9" />
<line x1="873.33" y1="568.6" x2="873.33" y2="575.3" stroke="#1a1a1a" stroke-width="1.9" />
<line x1="885.18" y1="568.6" x2="885.18" y2="575.3" stroke="#1a1a1a" stroke-width="1.9" />
<line x1="894.36" y1="568.6" x2="894.36" y2="577.3" stroke="#1a1a1a" stroke-width="1.9" />
<line x1="901.87" y1="568.6" x2="901.87" y2="575.3" stroke="#1a1a1a" stroke-width="1.9" />
<line x1="908.22" y1="568.6" x2="908.22" y2="575.3" stroke="#1a1a1a" stroke-width="1.9" />
<line x1="913.71" y1="568.6" x2="913.71" y2="575.3" stroke="#1a1a1a" stroke-width="1.9" />
<line x1="918.56" y1="568.6" x2="918.56" y2="575.3" stroke="#1a1a1a" stroke-width="1.9" />
<line x1="950.41" y1="568.6" x2="950.41" y2="575.3" stroke="#1a1a1a" stroke-width="1.9" />
<line x1="966.51" y1="568.6" x2="966.51" y2="575.3" stroke="#1a1a1a" stroke-width="1.9" />
<line x1="977.93" y1="568.6" x2="977.93" y2="575.3" stroke="#1a1a1a" stroke-width="1.9" />
<line x1="986.79" y1="568.6" x2="986.79" y2="577.3" stroke="#1a1a1a" stroke-width="1.9" />
<line x1="994.02" y1="568.6" x2="994.02" y2="575.3" stroke="#1a1a1a" stroke-width="1.9" />
<line x1="1000.14" y1="568.6" x2="1000.14" y2="575.3" stroke="#1a1a1a" stroke-width="1.9" />
<line x1="1005.44" y1="568.6" x2="1005.44" y2="575.3" stroke="#1a1a1a" stroke-width="1.9" />
<line x1="1010.12" y1="568.6" x2="1010.12" y2="575.3" stroke="#1a1a1a" stroke-width="1.9" />
<line x1="1041.6" y1="568.6" x2="1041.6" y2="575.3" stroke="#1a1a1a" stroke-width="1.9" />
<line x1="1057.57" y1="568.6" x2="1057.57" y2="575.3" stroke="#1a1a1a" stroke-width="1.9" />
<line x1="1068.91" y1="568.6" x2="1068.91" y2="575.3" stroke="#1a1a1a" stroke-width="1.9" />
<line x1="1077.7" y1="568.6" x2="1077.7" y2="577.3" stroke="#1a1a1a" stroke-width="1.9" />
<line x1="1084.88" y1="568.6" x2="1084.88" y2="575.3" stroke="#1a1a1a" stroke-width="1.9" />
<line x1="1090.95" y1="568.6" x2="1090.95" y2="575.3" stroke="#1a1a1a" stroke-width="1.9" />
<line x1="1096.21" y1="568.6" x2="1096.21" y2="575.3" stroke="#1a1a1a" stroke-width="1.9" />
<line x1="1100.85" y1="568.6" x2="1100.85" y2="575.3" stroke="#1a1a1a" stroke-width="1.9" />
<line x1="1132.39" y1="568.6" x2="1132.39" y2="575.3" stroke="#1a1a1a" stroke-width="1.9" />
<rect x="786.7" y="568.6" width="2.5" height="11.5" fill="#1a1a1a" stroke="none" stroke-width="0" />
<rect x="789.2" y="568.6" width="2.8" height="7" fill="#1a1a1a" stroke="none" stroke-width="0" />
<rect x="792" y="568.6" width="5.2" height="11.5" fill="#1a1a1a" stroke="none" stroke-width="0" />
<line x1="763.9" y1="609.1" x2="846.8" y2="609.1" stroke="#000" stroke-width="3.2" />
<line x1="1075.4" y1="609.1" x2="1158" y2="609.1" stroke="#000" stroke-width="3.2" />
<text x="960" y="619.9" font-size="29.3" text-anchor="middle">H-2K<tspan font-size="19.5" dy="-11.5">b</tspan><tspan dy="11.5"> BV711</tspan></text>
<text x="734.6" y="47.3" font-size="29.5" textLength="105.8" lengthAdjust="spacingAndGlyphs">(–)IFN-<tspan font-family="'DejaVu Math TeX Gyre', 'DejaVu Serif', serif" font-size="26.5">γ</tspan></text>
<text x="734.6" y="126.2" font-size="29.5" textLength="105.8" lengthAdjust="spacingAndGlyphs">(+)IFN-<tspan font-family="'DejaVu Math TeX Gyre', 'DejaVu Serif', serif" font-size="26.5">γ</tspan></text>
<line x1="853.8" y1="75.5" x2="853.8" y2="159.4" stroke="#111" stroke-width="2.2" />
<rect x="869.8" y="24" width="29" height="29" fill="none" stroke="#000" stroke-width="3" stroke-dasharray="1.6 1.6"/>
<text x="914.6" y="46.8" font-size="25" text-anchor="start" font-weight="normal" fill="#000" textLength="76.3" lengthAdjust="spacingAndGlyphs" >WT EV</text>
<rect x="869.8" y="62" width="29" height="29" fill="#fff" stroke="#000" stroke-width="3" />
<text x="914.6" y="84.8" font-size="25" text-anchor="start" font-weight="normal" fill="#000" textLength="76.3" lengthAdjust="spacingAndGlyphs" >WT EV</text>
<rect x="869.8" y="99.1" width="29" height="29" fill="#dcdcf2" stroke="#6e6fc9" stroke-width="3" />
<text x="914.6" y="121.9" font-size="25" text-anchor="start" font-weight="normal" fill="#000" textLength="148" lengthAdjust="spacingAndGlyphs" >IFN<tspan font-family="'DejaVu Math TeX Gyre', 'DejaVu Serif', serif" font-size="22">γ</tspan>R2 Mut.1</text>
<rect x="869.8" y="137.9" width="29" height="29" fill="#d6e4c8" stroke="#4d8f3a" stroke-width="3" />
<text x="914.6" y="160.7" font-size="25" text-anchor="start" font-weight="normal" fill="#000" textLength="148" lengthAdjust="spacingAndGlyphs" >IFN<tspan font-family="'DejaVu Math TeX Gyre', 'DejaVu Serif', serif" font-size="22">γ</tspan>R2 Mut.1</text>
<text x="1073.1" y="160.7" font-size="25" text-anchor="start" font-weight="normal" fill="#000" textLength="103" lengthAdjust="spacingAndGlyphs" >+ IFN<tspan font-family="'DejaVu Math TeX Gyre', 'DejaVu Serif', serif" font-size="22">γ</tspan>R2</text>
<text x="1266" y="30.4" font-size="42" font-weight="bold">c</text>
<clipPath id="cc"><rect x="1299.8" y="180.8" width="396" height="394.7"/></clipPath>
<g clip-path="url(#cc)">
<path d="M1381.6 574.3 C1382.67 572.83 1386.4 569.1 1388 565.5 C1389.6 561.9 1390 558.3 1391.2 552.7 C1392.4 547.1 1393.87 539.37 1395.2 531.9 C1396.53 524.43 1397.87 517.23 1399.2 507.9 C1400.53 498.57 1401.87 486.55 1403.2 475.9 C1404.53 465.25 1406 454.65 1407.2 444 C1408.4 433.35 1409.2 421.83 1410.4 412 C1411.6 402.17 1413.47 391.35 1414.4 385 C1415.33 378.65 1415.35 377.75 1416 373.9 C1416.65 370.05 1417.58 363.05 1418.3 361.9 C1419.02 360.75 1419.63 365 1420.3 367 C1420.97 369 1421.63 374.4 1422.3 373.9 C1422.97 373.4 1423.63 368 1424.3 364 C1424.97 360 1425.43 355.72 1426.3 349.9 C1427.17 344.08 1428.17 336.57 1429.5 329.1 C1430.83 321.63 1432.97 312.3 1434.3 305.1 C1435.63 297.9 1436.43 292.28 1437.5 285.9 C1438.57 279.52 1439.63 271.38 1440.7 266.8 C1441.77 262.22 1442.83 258.67 1443.9 258.4 C1444.97 258.13 1446.17 260.62 1447.1 265.2 C1448.03 269.78 1448.7 278.18 1449.5 285.9 C1450.3 293.62 1450.97 304.88 1451.9 311.5 C1452.83 318.12 1453.9 325.07 1455.1 325.6 C1456.3 326.13 1457.9 319.18 1459.1 314.7 C1460.3 310.22 1461.23 299.77 1462.3 298.7 C1463.37 297.63 1464.57 302.43 1465.5 308.3 C1466.43 314.17 1467.1 325.63 1467.9 333.9 C1468.7 342.17 1469.37 350.57 1470.3 357.9 C1471.23 365.23 1472.43 376.57 1473.5 377.9 C1474.57 379.23 1475.55 370.57 1476.7 365.9 C1477.85 361.23 1479.33 350.97 1480.4 349.9 C1481.47 348.83 1482.12 356.03 1483.1 359.5 C1484.08 362.97 1485.37 367.5 1486.3 370.7 C1487.23 373.9 1488.03 375.65 1488.7 378.7 C1489.37 381.75 1489.77 384.78 1490.3 389 C1490.83 393.22 1491.23 397.5 1491.9 404 C1492.57 410.5 1493.37 420.53 1494.3 428 C1495.23 435.47 1496.03 442.95 1497.5 448.8 C1498.97 454.65 1501.5 458.05 1503.1 463.1 C1504.7 468.15 1505.77 472.97 1507.1 479.1 C1508.43 485.23 1509.37 495.1 1511.1 499.9 C1512.83 504.7 1515.63 504.97 1517.5 507.9 C1519.37 510.83 1520.7 513.5 1522.3 517.5 C1523.9 521.5 1525.5 527.37 1527.1 531.9 C1528.7 536.43 1530.3 540.43 1531.9 544.7 C1533.5 548.97 1534.83 554.03 1536.7 557.5 C1538.57 560.97 1540.43 563.23 1543.1 565.5 C1545.77 567.77 1549.77 569.63 1552.7 571.1 C1555.63 572.57 1559.37 573.77 1560.7 574.3 L1560.7 574.5 L1381.6 574.5 Z" fill="#d8e5cb" fill-opacity="1" stroke="none"/>
<path d="M1381.6 574.3 C1382.67 572.83 1386.4 569.1 1388 565.5 C1389.6 561.9 1390 558.3 1391.2 552.7 C1392.4 547.1 1393.87 539.37 1395.2 531.9 C1396.53 524.43 1397.87 517.23 1399.2 507.9 C1400.53 498.57 1401.87 486.55 1403.2 475.9 C1404.53 465.25 1406 454.65 1407.2 444 C1408.4 433.35 1409.2 421.83 1410.4 412 C1411.6 402.17 1413.47 391.35 1414.4 385 C1415.33 378.65 1415.35 377.75 1416 373.9 C1416.65 370.05 1417.58 363.05 1418.3 361.9 C1419.02 360.75 1419.63 365 1420.3 367 C1420.97 369 1421.63 374.4 1422.3 373.9 C1422.97 373.4 1423.63 368 1424.3 364 C1424.97 360 1425.43 355.72 1426.3 349.9 C1427.17 344.08 1428.17 336.57 1429.5 329.1 C1430.83 321.63 1432.97 312.3 1434.3 305.1 C1435.63 297.9 1436.43 292.28 1437.5 285.9 C1438.57 279.52 1439.63 271.38 1440.7 266.8 C1441.77 262.22 1442.83 258.67 1443.9 258.4 C1444.97 258.13 1446.17 260.62 1447.1 265.2 C1448.03 269.78 1448.7 278.18 1449.5 285.9 C1450.3 293.62 1450.97 304.88 1451.9 311.5 C1452.83 318.12 1453.9 325.07 1455.1 325.6 C1456.3 326.13 1457.9 319.18 1459.1 314.7 C1460.3 310.22 1461.23 299.77 1462.3 298.7 C1463.37 297.63 1464.57 302.43 1465.5 308.3 C1466.43 314.17 1467.1 325.63 1467.9 333.9 C1468.7 342.17 1469.37 350.57 1470.3 357.9 C1471.23 365.23 1472.43 376.57 1473.5 377.9 C1474.57 379.23 1475.55 370.57 1476.7 365.9 C1477.85 361.23 1479.33 350.97 1480.4 349.9 C1481.47 348.83 1482.12 356.03 1483.1 359.5 C1484.08 362.97 1485.37 367.5 1486.3 370.7 C1487.23 373.9 1488.03 375.65 1488.7 378.7 C1489.37 381.75 1489.77 384.78 1490.3 389 C1490.83 393.22 1491.23 397.5 1491.9 404 C1492.57 410.5 1493.37 420.53 1494.3 428 C1495.23 435.47 1496.03 442.95 1497.5 448.8 C1498.97 454.65 1501.5 458.05 1503.1 463.1 C1504.7 468.15 1505.77 472.97 1507.1 479.1 C1508.43 485.23 1509.37 495.1 1511.1 499.9 C1512.83 504.7 1515.63 504.97 1517.5 507.9 C1519.37 510.83 1520.7 513.5 1522.3 517.5 C1523.9 521.5 1525.5 527.37 1527.1 531.9 C1528.7 536.43 1530.3 540.43 1531.9 544.7 C1533.5 548.97 1534.83 554.03 1536.7 557.5 C1538.57 560.97 1540.43 563.23 1543.1 565.5 C1545.77 567.77 1549.77 569.63 1552.7 571.1 C1555.63 572.57 1559.37 573.77 1560.7 574.3" fill="none" stroke="#3f8a2c" stroke-width="2.5" stroke-linejoin="round"/>
<path d="M1381.6 574.3 C1382.67 572.83 1386.4 569.1 1388 565.5 C1389.6 561.9 1390 558.3 1391.2 552.7 C1392.4 547.1 1393.87 539.37 1395.2 531.9 C1396.53 524.43 1397.87 517.23 1399.2 507.9 C1400.53 498.57 1401.87 486.55 1403.2 475.9 C1404.53 465.25 1406 454.65 1407.2 444 C1408.4 433.35 1409.2 421.83 1410.4 412 C1411.6 402.17 1413.47 391.35 1414.4 385 C1415.33 378.65 1415.35 377.75 1416 373.9 C1416.65 370.05 1417.58 363.05 1418.3 361.9 C1419.02 360.75 1419.63 365 1420.3 367 C1420.97 369 1421.63 374.4 1422.3 373.9 C1422.97 373.4 1423.63 368 1424.3 364 C1424.97 360 1425.43 355.72 1426.3 349.9 C1427.17 344.08 1428.17 336.57 1429.5 329.1 C1430.83 321.63 1432.97 312.3 1434.3 305.1 C1435.63 297.9 1436.43 292.28 1437.5 285.9 C1438.57 279.52 1439.63 271.38 1440.7 266.8 C1441.77 262.22 1442.83 258.67 1443.9 258.4 C1444.97 258.13 1446.17 260.62 1447.1 265.2 C1448.03 269.78 1448.7 278.18 1449.5 285.9 C1450.3 293.62 1450.97 304.88 1451.9 311.5 C1452.83 318.12 1453.9 325.07 1455.1 325.6 C1456.3 326.13 1457.9 319.18 1459.1 314.7 C1460.3 310.22 1461.23 299.77 1462.3 298.7 C1463.37 297.63 1464.57 302.43 1465.5 308.3 C1466.43 314.17 1467.1 325.63 1467.9 333.9 C1468.7 342.17 1469.37 350.57 1470.3 357.9 C1471.23 365.23 1472.43 376.57 1473.5 377.9 C1474.57 379.23 1475.55 370.57 1476.7 365.9 C1477.85 361.23 1479.33 350.97 1480.4 349.9 C1481.47 348.83 1482.12 356.03 1483.1 359.5 C1484.08 362.97 1485.37 367.5 1486.3 370.7 C1487.23 373.9 1488.03 375.65 1488.7 378.7 C1489.37 381.75 1489.77 384.78 1490.3 389 C1490.83 393.22 1491.23 397.5 1491.9 404 C1492.57 410.5 1493.37 420.53 1494.3 428 C1495.23 435.47 1496.03 442.95 1497.5 448.8 C1498.97 454.65 1501.5 458.05 1503.1 463.1 C1504.7 468.15 1505.77 472.97 1507.1 479.1 C1508.43 485.23 1509.37 495.1 1511.1 499.9 C1512.83 504.7 1515.63 504.97 1517.5 507.9 C1519.37 510.83 1520.7 513.5 1522.3 517.5 C1523.9 521.5 1525.5 527.37 1527.1 531.9 C1528.7 536.43 1530.3 540.43 1531.9 544.7 C1533.5 548.97 1534.83 554.03 1536.7 557.5 C1538.57 560.97 1540.43 563.23 1543.1 565.5 C1545.77 567.77 1549.77 569.63 1552.7 571.1 C1555.63 572.57 1559.37 573.77 1560.7 574.3" fill="none" stroke="#3f8a2c" stroke-width="2.5" stroke-linejoin="round"/>
<path d="M1391.2 574.3 C1392.27 572.83 1395.87 569.1 1397.6 565.5 C1399.33 561.9 1400.27 559.63 1401.6 552.7 C1402.93 545.77 1404.4 536.7 1405.6 523.9 C1406.8 511.1 1407.87 491.88 1408.8 475.9 C1409.73 459.92 1410.47 443.98 1411.2 428 C1411.93 412.02 1412.8 390.35 1413.2 380 C1413.6 369.65 1413.27 373.58 1413.6 365.9 C1413.93 358.22 1414.55 344.57 1415.2 333.9 C1415.85 323.23 1416.7 312.55 1417.5 301.9 C1418.3 291.25 1419 280.65 1420 270 C1421 259.35 1422.38 246.13 1423.5 238 C1424.62 229.87 1425.57 221.2 1426.7 221.2 C1427.83 221.2 1429.03 229.87 1430.3 238 C1431.57 246.13 1433.1 259.35 1434.3 270 C1435.5 280.65 1436.57 291.25 1437.5 301.9 C1438.43 312.55 1439.1 323.23 1439.9 333.9 C1440.7 344.57 1441.73 357.38 1442.3 365.9 C1442.87 374.42 1442.9 377.32 1443.3 385 C1443.7 392.68 1443.8 399.52 1444.7 412 C1445.6 424.48 1447.23 445.25 1448.7 459.9 C1450.17 474.55 1451.9 489.23 1453.5 499.9 C1455.1 510.57 1456.43 515.9 1458.3 523.9 C1460.17 531.9 1462.57 541.23 1464.7 547.9 C1466.83 554.57 1468.97 559.9 1471.1 563.9 C1473.23 567.9 1474.83 570.17 1477.5 571.9 C1480.17 573.63 1485.5 573.9 1487.1 574.3 L1487.1 574.5 L1391.2 574.5 Z" fill="#f07078" fill-opacity="0.5" stroke="none"/>
<path d="M1391.2 574.3 C1392.27 572.83 1395.87 569.1 1397.6 565.5 C1399.33 561.9 1400.27 559.63 1401.6 552.7 C1402.93 545.77 1404.4 536.7 1405.6 523.9 C1406.8 511.1 1407.87 491.88 1408.8 475.9 C1409.73 459.92 1410.47 443.98 1411.2 428 C1411.93 412.02 1412.8 390.35 1413.2 380 C1413.6 369.65 1413.27 373.58 1413.6 365.9 C1413.93 358.22 1414.55 344.57 1415.2 333.9 C1415.85 323.23 1416.7 312.55 1417.5 301.9 C1418.3 291.25 1419 280.65 1420 270 C1421 259.35 1422.38 246.13 1423.5 238 C1424.62 229.87 1425.57 221.2 1426.7 221.2 C1427.83 221.2 1429.03 229.87 1430.3 238 C1431.57 246.13 1433.1 259.35 1434.3 270 C1435.5 280.65 1436.57 291.25 1437.5 301.9 C1438.43 312.55 1439.1 323.23 1439.9 333.9 C1440.7 344.57 1441.73 357.38 1442.3 365.9 C1442.87 374.42 1442.9 377.32 1443.3 385 C1443.7 392.68 1443.8 399.52 1444.7 412 C1445.6 424.48 1447.23 445.25 1448.7 459.9 C1450.17 474.55 1451.9 489.23 1453.5 499.9 C1455.1 510.57 1456.43 515.9 1458.3 523.9 C1460.17 531.9 1462.57 541.23 1464.7 547.9 C1466.83 554.57 1468.97 559.9 1471.1 563.9 C1473.23 567.9 1474.83 570.17 1477.5 571.9 C1480.17 573.63 1485.5 573.9 1487.1 574.3" fill="none" stroke="#f0504f" stroke-width="2.3" stroke-linejoin="round"/>
<path d="M1391.2 574.3 C1392.27 572.83 1395.87 569.1 1397.6 565.5 C1399.33 561.9 1400.27 559.63 1401.6 552.7 C1402.93 545.77 1404.4 536.7 1405.6 523.9 C1406.8 511.1 1407.87 491.88 1408.8 475.9 C1409.73 459.92 1410.47 443.98 1411.2 428 C1411.93 412.02 1412.8 390.35 1413.2 380 C1413.6 369.65 1413.27 373.58 1413.6 365.9 C1413.93 358.22 1414.55 344.57 1415.2 333.9 C1415.85 323.23 1416.7 312.55 1417.5 301.9 C1418.3 291.25 1419 280.65 1420 270 C1421 259.35 1422.38 246.13 1423.5 238 C1424.62 229.87 1425.57 221.2 1426.7 221.2 C1427.83 221.2 1429.03 229.87 1430.3 238 C1431.57 246.13 1433.1 259.35 1434.3 270 C1435.5 280.65 1436.57 291.25 1437.5 301.9 C1438.43 312.55 1439.1 323.23 1439.9 333.9 C1440.7 344.57 1441.73 357.38 1442.3 365.9 C1442.87 374.42 1442.9 377.32 1443.3 385 C1443.7 392.68 1443.8 399.52 1444.7 412 C1445.6 424.48 1447.23 445.25 1448.7 459.9 C1450.17 474.55 1451.9 489.23 1453.5 499.9 C1455.1 510.57 1456.43 515.9 1458.3 523.9 C1460.17 531.9 1462.57 541.23 1464.7 547.9 C1466.83 554.57 1468.97 559.9 1471.1 563.9 C1473.23 567.9 1474.83 570.17 1477.5 571.9 C1480.17 573.63 1485.5 573.9 1487.1 574.3" fill="none" stroke="#f0504f" stroke-width="2.5" stroke-linejoin="round"/>
<path d="M1392.8 574.3 C1393.87 574.03 1397.07 573.9 1399.2 572.7 C1401.33 571.5 1403.87 569.63 1405.6 567.1 C1407.33 564.57 1408.4 562.03 1409.6 557.5 C1410.8 552.97 1411.75 546.83 1412.8 539.9 C1413.85 532.97 1414.72 525.23 1415.9 515.9 C1417.08 506.57 1418.57 494.55 1419.9 483.9 C1421.23 473.25 1422.7 463.98 1423.9 452 C1425.1 440.02 1426.2 423.17 1427.1 412 C1428 400.83 1428.5 392.68 1429.3 385 C1430.1 377.32 1431.07 373.08 1431.9 365.9 C1432.73 358.72 1433.5 349.9 1434.3 341.9 C1435.1 333.9 1435.9 325.1 1436.7 317.9 C1437.5 310.7 1438.3 303.28 1439.1 298.7 C1439.9 294.12 1440.57 291.87 1441.5 290.4 C1442.43 288.93 1443.77 291.72 1444.7 289.9 C1445.63 288.08 1446.22 284.55 1447.1 279.5 C1447.98 274.45 1449.2 259.6 1450 259.6 C1450.8 259.6 1451.18 272.98 1451.9 279.5 C1452.62 286.02 1453.5 293.9 1454.3 298.7 C1455.1 303.5 1455.63 305.9 1456.7 308.3 C1457.77 310.7 1459.5 310.7 1460.7 313.1 C1461.9 315.5 1462.97 317.9 1463.9 322.7 C1464.83 327.5 1465.63 336.03 1466.3 341.9 C1466.97 347.77 1467.23 352.57 1467.9 357.9 C1468.57 363.23 1469.45 369.72 1470.3 373.9 C1471.15 378.08 1472.07 379.85 1473 383 C1473.93 386.15 1475.02 388.5 1475.9 392.8 C1476.78 397.1 1477.5 404.93 1478.3 408.8 C1479.1 412.67 1479.77 414.67 1480.7 416 C1481.63 417.33 1483.1 414.8 1483.9 416.8 C1484.7 418.8 1484.7 422.13 1485.5 428 C1486.3 433.87 1487.63 444.02 1488.7 452 C1489.77 459.98 1490.7 468.72 1491.9 475.9 C1493.1 483.08 1494.57 489.23 1495.9 495.1 C1497.23 500.97 1498.43 506.97 1499.9 511.1 C1501.37 515.23 1503.23 517.9 1504.7 519.9 C1506.17 521.9 1507.37 521.37 1508.7 523.1 C1510.03 524.83 1511.23 527.77 1512.7 530.3 C1514.17 532.83 1515.9 534.83 1517.5 538.3 C1519.1 541.77 1520.7 547.1 1522.3 551.1 C1523.9 555.1 1525.23 559.5 1527.1 562.3 C1528.97 565.1 1531.1 566.57 1533.5 567.9 C1535.9 569.23 1538.3 569.37 1541.5 570.3 C1544.7 571.23 1550.03 572.83 1552.7 573.5 C1555.37 574.17 1556.7 574.17 1557.5 574.3" fill="none" stroke="#333" stroke-width="2.3" stroke-linejoin="round"/>
<path d="M1389.6 574.3 C1390.4 572.83 1393.07 569.1 1394.4 565.5 C1395.73 561.9 1396.6 559.63 1397.6 552.7 C1398.6 545.77 1399.6 534.03 1400.4 523.9 C1401.2 513.77 1401.8 503.88 1402.4 491.9 C1403 479.92 1403.47 465.32 1404 452 C1404.53 438.68 1405.07 423.17 1405.6 412 C1406.13 400.83 1406.53 395.35 1407.2 385 C1407.87 374.65 1408.88 361.08 1409.6 349.9 C1410.32 338.72 1410.9 328.57 1411.5 317.9 C1412.1 307.23 1412.72 295.22 1413.2 285.9 C1413.68 276.58 1413.93 268.78 1414.4 262 C1414.87 255.22 1415.47 246.53 1416 245.2 C1416.53 243.87 1416.82 250.4 1417.6 254 C1418.38 257.6 1419.78 261.48 1420.7 266.8 C1421.62 272.12 1422.3 277.38 1423.1 285.9 C1423.9 294.42 1424.75 307.23 1425.5 317.9 C1426.25 328.57 1426.98 341.1 1427.6 349.9 C1428.22 358.7 1428.63 364.85 1429.2 370.7 C1429.77 376.55 1430.28 378.12 1431 385 C1431.72 391.88 1432.68 402.17 1433.5 412 C1434.32 421.83 1435.1 433.35 1435.9 444 C1436.7 454.65 1437.5 466.58 1438.3 475.9 C1439.1 485.22 1439.77 491.9 1440.7 499.9 C1441.63 507.9 1442.7 516.7 1443.9 523.9 C1445.1 531.1 1446.3 537.23 1447.9 543.1 C1449.5 548.97 1451.5 555.1 1453.5 559.1 C1455.5 563.1 1456.97 564.97 1459.9 567.1 C1462.83 569.23 1467.1 570.7 1471.1 571.9 C1475.1 573.1 1481.77 573.9 1483.9 574.3" fill="none" stroke="#161616" stroke-width="3" stroke-linejoin="round" stroke-dasharray="0.01 6.1" stroke-linecap="round"/>
</g>
<rect x="1299.8" y="180.8" width="396" height="393.7" fill="none" stroke="#1a1a1a" stroke-width="2" />
<line x1="1289.8" y1="573.5" x2="1298.8" y2="573.5" stroke="#1a1a1a" stroke-width="3.3" stroke-linecap="round"/>
<line x1="1294.8" y1="554.7" x2="1299.8" y2="554.7" stroke="#1a1a1a" stroke-width="2" />
<line x1="1294.8" y1="535.9" x2="1299.8" y2="535.9" stroke="#1a1a1a" stroke-width="2" />
<line x1="1294.8" y1="517.1" x2="1299.8" y2="517.1" stroke="#1a1a1a" stroke-width="2" />
<line x1="1289.8" y1="498.3" x2="1298.8" y2="498.3" stroke="#1a1a1a" stroke-width="3.3" stroke-linecap="round"/>
<line x1="1294.8" y1="479.5" x2="1299.8" y2="479.5" stroke="#1a1a1a" stroke-width="2" />
<line x1="1294.8" y1="460.7" x2="1299.8" y2="460.7" stroke="#1a1a1a" stroke-width="2" />
<line x1="1294.8" y1="441.9" x2="1299.8" y2="441.9" stroke="#1a1a1a" stroke-width="2" />
<line x1="1289.8" y1="423.1" x2="1298.8" y2="423.1" stroke="#1a1a1a" stroke-width="3.3" stroke-linecap="round"/>
<line x1="1294.8" y1="404.3" x2="1299.8" y2="404.3" stroke="#1a1a1a" stroke-width="2" />
<line x1="1294.8" y1="385.5" x2="1299.8" y2="385.5" stroke="#1a1a1a" stroke-width="2" />
<line x1="1294.8" y1="366.7" x2="1299.8" y2="366.7" stroke="#1a1a1a" stroke-width="2" />
<line x1="1289.8" y1="347.9" x2="1298.8" y2="347.9" stroke="#1a1a1a" stroke-width="3.3" stroke-linecap="round"/>
<line x1="1294.8" y1="329.1" x2="1299.8" y2="329.1" stroke="#1a1a1a" stroke-width="2" />
<line x1="1294.8" y1="310.3" x2="1299.8" y2="310.3" stroke="#1a1a1a" stroke-width="2" />
<line x1="1294.8" y1="291.5" x2="1299.8" y2="291.5" stroke="#1a1a1a" stroke-width="2" />
<line x1="1289.8" y1="272.7" x2="1298.8" y2="272.7" stroke="#1a1a1a" stroke-width="3.3" stroke-linecap="round"/>
<line x1="1294.8" y1="253.9" x2="1299.8" y2="253.9" stroke="#1a1a1a" stroke-width="2" />
<line x1="1294.8" y1="235.1" x2="1299.8" y2="235.1" stroke="#1a1a1a" stroke-width="2" />
<line x1="1294.8" y1="216.3" x2="1299.8" y2="216.3" stroke="#1a1a1a" stroke-width="2" />
<line x1="1289.8" y1="197.5" x2="1298.8" y2="197.5" stroke="#1a1a1a" stroke-width="3.3" stroke-linecap="round"/>
<line x1="1323.6" y1="574.5" x2="1323.6" y2="586.3" stroke="#1a1a1a" stroke-width="3" />
<line x1="1453.4" y1="574.5" x2="1453.4" y2="586.3" stroke="#1a1a1a" stroke-width="3" />
<line x1="1562.1" y1="574.5" x2="1562.1" y2="586.3" stroke="#1a1a1a" stroke-width="3" />
<line x1="1656.7" y1="574.5" x2="1656.7" y2="586.3" stroke="#1a1a1a" stroke-width="3" />
<line x1="1329.9" y1="574.5" x2="1329.9" y2="580.7" stroke="#1a1a1a" stroke-width="1.9" />
<line x1="1333.5" y1="574.5" x2="1333.5" y2="580.7" stroke="#1a1a1a" stroke-width="1.9" />
<line x1="1340.3" y1="574.5" x2="1340.3" y2="580.7" stroke="#1a1a1a" stroke-width="1.9" />
<line x1="1345.8" y1="574.5" x2="1345.8" y2="580.7" stroke="#1a1a1a" stroke-width="1.9" />
<line x1="1352.6" y1="574.5" x2="1352.6" y2="583.2" stroke="#1a1a1a" stroke-width="1.9" />
<line x1="1359.9" y1="574.5" x2="1359.9" y2="580.7" stroke="#1a1a1a" stroke-width="1.9" />
<line x1="1366.7" y1="574.5" x2="1366.7" y2="580.7" stroke="#1a1a1a" stroke-width="1.9" />
<line x1="1374" y1="574.5" x2="1374" y2="580.7" stroke="#1a1a1a" stroke-width="1.9" />
<line x1="1404.1" y1="574.5" x2="1404.1" y2="580.7" stroke="#1a1a1a" stroke-width="1.9" />
<line x1="1410.8" y1="574.5" x2="1410.8" y2="580.7" stroke="#1a1a1a" stroke-width="1.9" />
<line x1="1418.8" y1="574.5" x2="1418.8" y2="580.7" stroke="#1a1a1a" stroke-width="1.9" />
<line x1="1424.9" y1="574.5" x2="1424.9" y2="583.2" stroke="#1a1a1a" stroke-width="1.9" />
<line x1="1431.7" y1="574.5" x2="1431.7" y2="580.7" stroke="#1a1a1a" stroke-width="1.9" />
<line x1="1439" y1="574.5" x2="1439" y2="580.7" stroke="#1a1a1a" stroke-width="1.9" />
<line x1="1444.6" y1="574.5" x2="1444.6" y2="580.7" stroke="#1a1a1a" stroke-width="1.9" />
<line x1="1448.9" y1="574.5" x2="1448.9" y2="580.7" stroke="#1a1a1a" stroke-width="1.9" />
<line x1="1486.12" y1="574.5" x2="1486.12" y2="581.2" stroke="#1a1a1a" stroke-width="1.9" />
<line x1="1505.26" y1="574.5" x2="1505.26" y2="581.2" stroke="#1a1a1a" stroke-width="1.9" />
<line x1="1518.84" y1="574.5" x2="1518.84" y2="581.2" stroke="#1a1a1a" stroke-width="1.9" />
<line x1="1529.38" y1="574.5" x2="1529.38" y2="583.2" stroke="#1a1a1a" stroke-width="1.9" />
<line x1="1537.99" y1="574.5" x2="1537.99" y2="581.2" stroke="#1a1a1a" stroke-width="1.9" />
<line x1="1545.26" y1="574.5" x2="1545.26" y2="581.2" stroke="#1a1a1a" stroke-width="1.9" />
<line x1="1551.57" y1="574.5" x2="1551.57" y2="581.2" stroke="#1a1a1a" stroke-width="1.9" />
<line x1="1557.13" y1="574.5" x2="1557.13" y2="581.2" stroke="#1a1a1a" stroke-width="1.9" />
<line x1="1590.58" y1="574.5" x2="1590.58" y2="581.2" stroke="#1a1a1a" stroke-width="1.9" />
<line x1="1607.24" y1="574.5" x2="1607.24" y2="581.2" stroke="#1a1a1a" stroke-width="1.9" />
<line x1="1619.05" y1="574.5" x2="1619.05" y2="581.2" stroke="#1a1a1a" stroke-width="1.9" />
<line x1="1628.22" y1="574.5" x2="1628.22" y2="583.2" stroke="#1a1a1a" stroke-width="1.9" />
<line x1="1635.71" y1="574.5" x2="1635.71" y2="581.2" stroke="#1a1a1a" stroke-width="1.9" />
<line x1="1642.05" y1="574.5" x2="1642.05" y2="581.2" stroke="#1a1a1a" stroke-width="1.9" />
<line x1="1647.53" y1="574.5" x2="1647.53" y2="581.2" stroke="#1a1a1a" stroke-width="1.9" />
<line x1="1652.37" y1="574.5" x2="1652.37" y2="581.2" stroke="#1a1a1a" stroke-width="1.9" />
<line x1="1685.09" y1="574.5" x2="1685.09" y2="581.2" stroke="#1a1a1a" stroke-width="1.9" />
<rect x="1380.2" y="574.5" width="3.3" height="11.5" fill="#1a1a1a" stroke="none" stroke-width="0" />
<rect x="1383.5" y="574.5" width="4.5" height="6" fill="#1a1a1a" stroke="none" stroke-width="0" />
<rect x="1388" y="574.5" width="4" height="11" fill="#1a1a1a" stroke="none" stroke-width="0" />
<rect x="1392" y="574.5" width="3" height="6" fill="#1a1a1a" stroke="none" stroke-width="0" />
<rect x="1395" y="574.5" width="3" height="11.5" fill="#1a1a1a" stroke="none" stroke-width="0" />
<line x1="1317.3" y1="609.4" x2="1401.1" y2="609.4" stroke="#000" stroke-width="3.2" />
<line x1="1627.7" y1="609.4" x2="1712" y2="609.4" stroke="#000" stroke-width="3.2" />
<text x="1511.5" y="620.2" font-size="29.3" text-anchor="middle">H-2K<tspan font-size="19.5" dy="-11.5">b</tspan><tspan dy="11.5"> BV711</tspan></text>
<text x="1297" y="48" font-size="29.5" textLength="105.8" lengthAdjust="spacingAndGlyphs">(–)IFN-<tspan font-family="'DejaVu Math TeX Gyre', 'DejaVu Serif', serif" font-size="26.5">γ</tspan></text>
<text x="1297" y="124.6" font-size="29.5" textLength="105.8" lengthAdjust="spacingAndGlyphs">(+)IFN-<tspan font-family="'DejaVu Math TeX Gyre', 'DejaVu Serif', serif" font-size="26.5">γ</tspan></text>
<line x1="1415.8" y1="75.5" x2="1415.8" y2="159.4" stroke="#111" stroke-width="2.2" />
<rect x="1432" y="24.5" width="29" height="29" fill="none" stroke="#000" stroke-width="3" stroke-dasharray="1.6 1.6"/>
<text x="1476.5" y="47.3" font-size="25" text-anchor="start" font-weight="normal" fill="#000" textLength="76.8" lengthAdjust="spacingAndGlyphs" >WT EV</text>
<rect x="1432" y="62" width="29" height="29" fill="#fff" stroke="#000" stroke-width="3" />
<text x="1476.5" y="84.8" font-size="25" text-anchor="start" font-weight="normal" fill="#000" textLength="76.8" lengthAdjust="spacingAndGlyphs" >WT EV</text>
<rect x="1432" y="99.5" width="29" height="29" fill="#f7d4d4" stroke="#e0393b" stroke-width="3" />
<text x="1476.5" y="122.3" font-size="25" text-anchor="start" font-weight="normal" fill="#000" textLength="118" lengthAdjust="spacingAndGlyphs" >Jak1 Mut.1</text>
<rect x="1432" y="137.9" width="29" height="29" fill="#d6e4c8" stroke="#4d8f3a" stroke-width="3" />
<text x="1476.5" y="160.7" font-size="25" text-anchor="start" font-weight="normal" fill="#000" textLength="199.5" lengthAdjust="spacingAndGlyphs" >Jak1 Mut.1 + Jak1</text>
<text x="2.3" y="699.8" font-size="42" text-anchor="start" font-weight="bold" fill="#000" >d</text>
<line x1="120.9" y1="705.6" x2="120.9" y2="1149.9" stroke="#222222" stroke-width="6.1" />
<line x1="114" y1="1146.8" x2="558.3" y2="1146.8" stroke="#222222" stroke-width="6.2" />
<text x="102.4" y="1156.1" font-size="30" text-anchor="end" font-weight="normal" fill="#000" >0</text>
<line x1="114" y1="1000.83" x2="120.9" y2="1000.83" stroke="#222222" stroke-width="6.6" />
<text x="102.4" y="1010.73" font-size="30" text-anchor="end" font-weight="normal" fill="#000" >200</text>
<line x1="114" y1="854.87" x2="120.9" y2="854.87" stroke="#222222" stroke-width="6.6" />
<text x="102.4" y="865.37" font-size="30" text-anchor="end" font-weight="normal" fill="#000" >400</text>
<line x1="114" y1="708.9" x2="120.9" y2="708.9" stroke="#222222" stroke-width="6.6" />
<text x="102.4" y="720" font-size="30" text-anchor="end" font-weight="normal" fill="#000" >600</text>
<line x1="160.3" y1="1146.8" x2="160.3" y2="1156" stroke="#222222" stroke-width="6" />
<text transform="translate(175.7 1179.8) rotate(-45)" font-size="29.8" text-anchor="end" fill="#000" >5</text>
<line x1="220.02" y1="1146.8" x2="220.02" y2="1156" stroke="#222222" stroke-width="6" />
<text transform="translate(235.42 1179.8) rotate(-45)" font-size="29.8" text-anchor="end" fill="#000" >7</text>
<line x1="279.74" y1="1146.8" x2="279.74" y2="1156" stroke="#222222" stroke-width="6" />
<text transform="translate(295.94 1177.4) rotate(-45)" font-size="29.8" text-anchor="end" fill="#000" >11</text>
<line x1="339.46" y1="1146.8" x2="339.46" y2="1156" stroke="#222222" stroke-width="6" />
<text transform="translate(355.66 1177.4) rotate(-45)" font-size="29.8" text-anchor="end" fill="#000" >13</text>
<line x1="399.18" y1="1146.8" x2="399.18" y2="1156" stroke="#222222" stroke-width="6" />
<text transform="translate(415.38 1177.4) rotate(-45)" font-size="29.8" text-anchor="end" fill="#000" >15</text>
<line x1="458.9" y1="1146.8" x2="458.9" y2="1156" stroke="#222222" stroke-width="6" />
<text transform="translate(475.1 1177.4) rotate(-45)" font-size="29.8" text-anchor="end" fill="#000" >18</text>
<line x1="518.62" y1="1146.8" x2="518.62" y2="1156" stroke="#222222" stroke-width="6" />
<text transform="translate(534.82 1177.4) rotate(-45)" font-size="29.8" text-anchor="end" fill="#000" >20</text>
<text transform="translate(29.3 929.4) rotate(-90)" font-size="29.3" text-anchor="middle" fill="#000" >Tumor volume (mm<tspan font-size="20.5" dy="-12">3</tspan><tspan dy="12">)</tspan></text>
<text x="341" y="1241.6" font-size="29.4" text-anchor="middle" font-weight="normal" fill="#000" >Day</text>
<line x1="220.02" y1="1109.58" x2="220.02" y2="1124.9" stroke="#000" stroke-width="3.2" />
<line x1="211.52" y1="1109.58" x2="228.52" y2="1109.58" stroke="#000" stroke-width="3.2" stroke-linecap="round"/>
<line x1="211.52" y1="1124.9" x2="228.52" y2="1124.9" stroke="#000" stroke-width="3.2" stroke-linecap="round"/>
<line x1="279.74" y1="1104.47" x2="279.74" y2="1121.99" stroke="#000" stroke-width="3.2" />
<line x1="271.24" y1="1104.47" x2="288.24" y2="1104.47" stroke="#000" stroke-width="3.2" stroke-linecap="round"/>
<line x1="271.24" y1="1121.99" x2="288.24" y2="1121.99" stroke="#000" stroke-width="3.2" stroke-linecap="round"/>
<line x1="339.46" y1="1077.47" x2="339.46" y2="1112.5" stroke="#000" stroke-width="3.2" />
<line x1="330.96" y1="1077.47" x2="347.96" y2="1077.47" stroke="#000" stroke-width="3.2" stroke-linecap="round"/>
<line x1="330.96" y1="1112.5" x2="347.96" y2="1112.5" stroke="#000" stroke-width="3.2" stroke-linecap="round"/>
<line x1="399.18" y1="1016.16" x2="399.18" y2="1089.14" stroke="#000" stroke-width="3.2" />
<line x1="390.68" y1="1016.16" x2="407.68" y2="1016.16" stroke="#000" stroke-width="3.2" stroke-linecap="round"/>
<line x1="390.68" y1="1089.14" x2="407.68" y2="1089.14" stroke="#000" stroke-width="3.2" stroke-linecap="round"/>
<line x1="458.9" y1="980.76" x2="458.9" y2="1073.45" stroke="#000" stroke-width="3.2" />
<line x1="450.4" y1="980.76" x2="467.4" y2="980.76" stroke="#000" stroke-width="3.2" stroke-linecap="round"/>
<line x1="450.4" y1="1073.45" x2="467.4" y2="1073.45" stroke="#000" stroke-width="3.2" stroke-linecap="round"/>
<line x1="518.62" y1="842.82" x2="518.62" y2="1014.7" stroke="#000" stroke-width="3.2" />
<line x1="510.12" y1="842.82" x2="527.12" y2="842.82" stroke="#000" stroke-width="3.2" stroke-linecap="round"/>
<line x1="510.12" y1="1014.7" x2="527.12" y2="1014.7" stroke="#000" stroke-width="3.2" stroke-linecap="round"/>
<path d="M160.3 1129.28 L220.02 1118.34 L279.74 1113.23 L339.46 1094.62 L399.18 1046.81 L458.9 1027.47 L518.62 928.94" fill="none" stroke="#000" stroke-width="3.4" stroke-linejoin="round"  />
<circle cx="160.3" cy="1129.28" r="9.5" fill="#000"/>
<circle cx="220.02" cy="1118.34" r="9.5" fill="#000"/>
<circle cx="279.74" cy="1113.23" r="9.5" fill="#000"/>
<circle cx="339.46" cy="1094.62" r="9.5" fill="#000"/>
<circle cx="399.18" cy="1046.81" r="9.5" fill="#000"/>
<circle cx="458.9" cy="1027.47" r="9.5" fill="#000"/>
<circle cx="518.62" cy="928.94" r="9.5" fill="#000"/>
<path d="M160.3 1143.15 L220.02 1123.45 L279.74 1138.04 L339.46 1145.63 L399.18 1146.8 L458.9 1146.8 L518.62 1146.8" fill="none" stroke="#000" stroke-width="3.4" stroke-linejoin="round"  />
<rect x="151.9" y="1134.75" width="16.8" height="16.8" fill="#4a8fd1" stroke="#000" stroke-width="2.4" stroke-linejoin="round"/>
<rect x="211.62" y="1115.05" width="16.8" height="16.8" fill="#4a8fd1" stroke="#000" stroke-width="2.4" stroke-linejoin="round"/>
<rect x="271.34" y="1129.64" width="16.8" height="16.8" fill="#4a8fd1" stroke="#000" stroke-width="2.4" stroke-linejoin="round"/>
<rect x="331.06" y="1137.23" width="16.8" height="16.8" fill="#4a8fd1" stroke="#000" stroke-width="2.4" stroke-linejoin="round"/>
<rect x="390.78" y="1138.4" width="16.8" height="16.8" fill="#4a8fd1" stroke="#000" stroke-width="2.4" stroke-linejoin="round"/>
<rect x="450.5" y="1138.4" width="16.8" height="16.8" fill="#4a8fd1" stroke="#000" stroke-width="2.4" stroke-linejoin="round"/>
<rect x="510.22" y="1138.4" width="16.8" height="16.8" fill="#4a8fd1" stroke="#000" stroke-width="2.4" stroke-linejoin="round"/>
<line x1="220.02" y1="1116.88" x2="220.02" y2="1129.28" stroke="#000" stroke-width="3.2" />
<line x1="211.52" y1="1116.88" x2="228.52" y2="1116.88" stroke="#000" stroke-width="3.2" stroke-linecap="round"/>
<line x1="211.52" y1="1129.28" x2="228.52" y2="1129.28" stroke="#000" stroke-width="3.2" stroke-linecap="round"/>
<line x1="279.74" y1="1096.44" x2="279.74" y2="1122.72" stroke="#000" stroke-width="3.2" />
<line x1="271.24" y1="1096.44" x2="288.24" y2="1096.44" stroke="#000" stroke-width="3.2" stroke-linecap="round"/>
<line x1="271.24" y1="1122.72" x2="288.24" y2="1122.72" stroke="#000" stroke-width="3.2" stroke-linecap="round"/>
<line x1="339.46" y1="1056.67" x2="339.46" y2="1103.37" stroke="#000" stroke-width="3.2" />
<line x1="330.96" y1="1056.67" x2="347.96" y2="1056.67" stroke="#000" stroke-width="3.2" stroke-linecap="round"/>
<line x1="330.96" y1="1103.37" x2="347.96" y2="1103.37" stroke="#000" stroke-width="3.2" stroke-linecap="round"/>
<line x1="399.18" y1="1010.32" x2="399.18" y2="1078.2" stroke="#000" stroke-width="3.2" />
<line x1="390.68" y1="1010.32" x2="407.68" y2="1010.32" stroke="#000" stroke-width="3.2" stroke-linecap="round"/>
<line x1="390.68" y1="1078.2" x2="407.68" y2="1078.2" stroke="#000" stroke-width="3.2" stroke-linecap="round"/>
<line x1="458.9" y1="950.84" x2="458.9" y2="1044.62" stroke="#000" stroke-width="3.2" />
<line x1="450.4" y1="950.84" x2="467.4" y2="950.84" stroke="#000" stroke-width="3.2" stroke-linecap="round"/>
<line x1="450.4" y1="1044.62" x2="467.4" y2="1044.62" stroke="#000" stroke-width="3.2" stroke-linecap="round"/>
<line x1="518.62" y1="812.9" x2="518.62" y2="950.11" stroke="#000" stroke-width="3.2" />
<line x1="510.12" y1="812.9" x2="527.12" y2="812.9" stroke="#000" stroke-width="3.2" stroke-linecap="round"/>
<line x1="510.12" y1="950.11" x2="527.12" y2="950.11" stroke="#000" stroke-width="3.2" stroke-linecap="round"/>
<path d="M160.3 1140.96 L220.02 1123.15 L279.74 1107.83 L339.46 1080.09 L399.18 1049.73 L458.9 997.91 L518.62 881.14" fill="none" stroke="#000" stroke-width="3.2" stroke-linejoin="round" stroke-dasharray="12.5 5.5" />
<rect x="151.9" y="1132.56" width="16.8" height="16.8" fill="#0a9245" stroke="#000" stroke-width="2.4" stroke-linejoin="round"/>
<rect x="211.62" y="1114.75" width="16.8" height="16.8" fill="#0a9245" stroke="#000" stroke-width="2.4" stroke-linejoin="round"/>
<rect x="271.34" y="1099.43" width="16.8" height="16.8" fill="#0a9245" stroke="#000" stroke-width="2.4" stroke-linejoin="round"/>
<rect x="331.06" y="1071.69" width="16.8" height="16.8" fill="#0a9245" stroke="#000" stroke-width="2.4" stroke-linejoin="round"/>
<rect x="390.78" y="1041.33" width="16.8" height="16.8" fill="#0a9245" stroke="#000" stroke-width="2.4" stroke-linejoin="round"/>
<rect x="450.5" y="989.51" width="16.8" height="16.8" fill="#0a9245" stroke="#000" stroke-width="2.4" stroke-linejoin="round"/>
<rect x="510.22" y="872.74" width="16.8" height="16.8" fill="#0a9245" stroke="#000" stroke-width="2.4" stroke-linejoin="round"/>
<path d="M534.8 878 L548 878 L548 927.1 L534.8 927.1" fill="none" stroke="#222" stroke-width="3.2" stroke-linejoin="round"  stroke-linecap="round" stroke-linejoin="miter"/>
<text x="557" y="912.7" font-size="29" text-anchor="start" font-weight="normal" fill="#000" >NS</text>
<line x1="158.5" y1="698.9" x2="191" y2="698.9" stroke="#000" stroke-width="3.6" stroke-linecap="round"/>
<circle cx="174.7" cy="698.9" r="13" fill="#000"/>
<text x="205.5" y="708.2" font-size="25" text-anchor="start" font-weight="normal" fill="#000" textLength="131.7" lengthAdjust="spacingAndGlyphs" >WT EV - EV</text>
<line x1="158.5" y1="743.9" x2="191" y2="743.9" stroke="#000" stroke-width="3.6" stroke-linecap="round"/>
<rect x="163.2" y="732.4" width="23" height="23" fill="#4a8fd1" stroke="#000" stroke-width="2.6" stroke-linejoin="round"/>
<text x="205.5" y="752.2" font-size="25" text-anchor="start" font-weight="normal" fill="#000" textLength="147.5" lengthAdjust="spacingAndGlyphs" >IFN<tspan font-family="'DejaVu Math TeX Gyre', 'DejaVu Serif', serif" font-size="22">γ</tspan>R2 Mut.1</text>
<line x1="151.3" y1="785" x2="198" y2="785" stroke="#000" stroke-width="3.8" stroke-dasharray="1.7 1.7"/>
<rect x="163.2" y="773.5" width="23" height="23" fill="#0a9245" stroke="#000" stroke-width="2.6" stroke-linejoin="round"/>
<text x="205.5" y="794.2" font-size="25" text-anchor="start" font-weight="normal" fill="#000" textLength="147.5" lengthAdjust="spacingAndGlyphs" >IFN<tspan font-family="'DejaVu Math TeX Gyre', 'DejaVu Serif', serif" font-size="22">γ</tspan>R2 Mut.1</text>
<text x="364" y="794.2" font-size="25" text-anchor="start" font-weight="normal" fill="#000" textLength="102.6" lengthAdjust="spacingAndGlyphs" >+ IFN<tspan font-family="'DejaVu Math TeX Gyre', 'DejaVu Serif', serif" font-size="22">γ</tspan>R2</text>
<text x="635.4" y="700.2" font-size="43.5" text-anchor="start" font-weight="bold" fill="#000" >e</text>
<line x1="766.7" y1="705.4" x2="766.7" y2="1150" stroke="#222222" stroke-width="5.6" />
<line x1="759.7" y1="1147" x2="1204.3" y2="1147" stroke="#222222" stroke-width="6" />
<text x="748.5" y="1156.2" font-size="30" text-anchor="end" font-weight="normal" fill="#000" >0</text>
<line x1="759.7" y1="1000.9" x2="766.7" y2="1000.9" stroke="#222222" stroke-width="6.6" />
<text x="748.5" y="1010.82" font-size="30" text-anchor="end" font-weight="normal" fill="#000" >200</text>
<line x1="759.7" y1="854.8" x2="766.7" y2="854.8" stroke="#222222" stroke-width="6.6" />
<text x="748.5" y="865.43" font-size="30" text-anchor="end" font-weight="normal" fill="#000" >400</text>
<line x1="759.7" y1="708.7" x2="766.7" y2="708.7" stroke="#222222" stroke-width="6.6" />
<text x="748.5" y="720.05" font-size="30" text-anchor="end" font-weight="normal" fill="#000" >600</text>
<line x1="806.4" y1="1147" x2="806.4" y2="1156.2" stroke="#222222" stroke-width="6" />
<text transform="translate(821.8 1180) rotate(-45)" font-size="29.8" text-anchor="end" fill="#000" >5</text>
<line x1="866.2" y1="1147" x2="866.2" y2="1156.2" stroke="#222222" stroke-width="6" />
<text transform="translate(881.6 1180) rotate(-45)" font-size="29.8" text-anchor="end" fill="#000" >7</text>
<line x1="926" y1="1147" x2="926" y2="1156.2" stroke="#222222" stroke-width="6" />
<text transform="translate(942.2 1177.6) rotate(-45)" font-size="29.8" text-anchor="end" fill="#000" >11</text>
<line x1="985.8" y1="1147" x2="985.8" y2="1156.2" stroke="#222222" stroke-width="6" />
<text transform="translate(1002 1177.6) rotate(-45)" font-size="29.8" text-anchor="end" fill="#000" >13</text>
<line x1="1045.6" y1="1147" x2="1045.6" y2="1156.2" stroke="#222222" stroke-width="6" />
<text transform="translate(1061.8 1177.6) rotate(-45)" font-size="29.8" text-anchor="end" fill="#000" >15</text>
<line x1="1105.4" y1="1147" x2="1105.4" y2="1156.2" stroke="#222222" stroke-width="6" />
<text transform="translate(1121.6 1177.6) rotate(-45)" font-size="29.8" text-anchor="end" fill="#000" >18</text>
<line x1="1165.2" y1="1147" x2="1165.2" y2="1156.2" stroke="#222222" stroke-width="6" />
<text transform="translate(1181.4 1177.6) rotate(-45)" font-size="29.8" text-anchor="end" fill="#000" >20</text>
<text transform="translate(675.5 929.4) rotate(-90)" font-size="29.3" text-anchor="middle" fill="#000" >Tumor volume (mm<tspan font-size="20.5" dy="-12">3</tspan><tspan dy="12">)</tspan></text>
<text x="986.3" y="1244.7" font-size="29.4" text-anchor="middle" font-weight="normal" fill="#000" >Day</text>
<line x1="866.2" y1="1109.74" x2="866.2" y2="1125.82" stroke="#000" stroke-width="3.2" />
<line x1="857.7" y1="1109.74" x2="874.7" y2="1109.74" stroke="#000" stroke-width="3.2" stroke-linecap="round"/>
<line x1="857.7" y1="1125.82" x2="874.7" y2="1125.82" stroke="#000" stroke-width="3.2" stroke-linecap="round"/>
<line x1="926" y1="1103.17" x2="926" y2="1123.62" stroke="#000" stroke-width="3.2" />
<line x1="917.5" y1="1103.17" x2="934.5" y2="1103.17" stroke="#000" stroke-width="3.2" stroke-linecap="round"/>
<line x1="917.5" y1="1123.62" x2="934.5" y2="1123.62" stroke="#000" stroke-width="3.2" stroke-linecap="round"/>
<line x1="985.8" y1="1073.95" x2="985.8" y2="1112.3" stroke="#000" stroke-width="3.2" />
<line x1="977.3" y1="1073.95" x2="994.3" y2="1073.95" stroke="#000" stroke-width="3.2" stroke-linecap="round"/>
<line x1="977.3" y1="1112.3" x2="994.3" y2="1112.3" stroke="#000" stroke-width="3.2" stroke-linecap="round"/>
<line x1="1045.6" y1="1016.24" x2="1045.6" y2="1078.33" stroke="#000" stroke-width="3.2" />
<line x1="1037.1" y1="1016.24" x2="1054.1" y2="1016.24" stroke="#000" stroke-width="3.2" stroke-linecap="round"/>
<line x1="1037.1" y1="1078.33" x2="1054.1" y2="1078.33" stroke="#000" stroke-width="3.2" stroke-linecap="round"/>
<line x1="1105.4" y1="981.18" x2="1105.4" y2="1073.22" stroke="#000" stroke-width="3.2" />
<line x1="1096.9" y1="981.18" x2="1113.9" y2="981.18" stroke="#000" stroke-width="3.2" stroke-linecap="round"/>
<line x1="1096.9" y1="1073.22" x2="1113.9" y2="1073.22" stroke="#000" stroke-width="3.2" stroke-linecap="round"/>
<line x1="1165.2" y1="842.75" x2="1165.2" y2="1014.78" stroke="#000" stroke-width="3.2" />
<line x1="1156.7" y1="842.75" x2="1173.7" y2="842.75" stroke="#000" stroke-width="3.2" stroke-linecap="round"/>
<line x1="1156.7" y1="1014.78" x2="1173.7" y2="1014.78" stroke="#000" stroke-width="3.2" stroke-linecap="round"/>
<path d="M806.4 1129.76 L866.2 1119.97 L926 1113.4 L985.8 1093.67 L1045.6 1047.65 L1105.4 1027.2 L1165.2 928.58" fill="none" stroke="#000" stroke-width="3.4" stroke-linejoin="round"  />
<circle cx="806.4" cy="1129.76" r="9.5" fill="#000"/>
<circle cx="866.2" cy="1119.97" r="9.5" fill="#000"/>
<circle cx="926" cy="1113.4" r="9.5" fill="#000"/>
<circle cx="985.8" cy="1093.67" r="9.5" fill="#000"/>
<circle cx="1045.6" cy="1047.65" r="9.5" fill="#000"/>
<circle cx="1105.4" cy="1027.2" r="9.5" fill="#000"/>
<circle cx="1165.2" cy="928.58" r="9.5" fill="#000"/>
<path d="M806.4 1139.33 L866.2 1147 L926 1147 L985.8 1147 L1045.6 1147 L1105.4 1147 L1165.2 1147" fill="none" stroke="#000" stroke-width="3.2" stroke-linejoin="round" stroke-dasharray="12.5 5.5" />
<path d="M806.4 1131.03 L814.7 1139.33 L806.4 1147.63 L798.1 1139.33 Z" fill="#f08080" stroke="#000" stroke-width="2.1" stroke-linejoin="miter" stroke-miterlimit="6"/>
<path d="M866.2 1138.7 L874.5 1147 L866.2 1155.3 L857.9 1147 Z" fill="#f08080" stroke="#000" stroke-width="2.1" stroke-linejoin="miter" stroke-miterlimit="6"/>
<path d="M926 1138.7 L934.3 1147 L926 1155.3 L917.7 1147 Z" fill="#f08080" stroke="#000" stroke-width="2.1" stroke-linejoin="miter" stroke-miterlimit="6"/>
<path d="M985.8 1138.7 L994.1 1147 L985.8 1155.3 L977.5 1147 Z" fill="#f08080" stroke="#000" stroke-width="2.1" stroke-linejoin="miter" stroke-miterlimit="6"/>
<path d="M1045.6 1138.7 L1053.9 1147 L1045.6 1155.3 L1037.3 1147 Z" fill="#f08080" stroke="#000" stroke-width="2.1" stroke-linejoin="miter" stroke-miterlimit="6"/>
<path d="M1105.4 1138.7 L1113.7 1147 L1105.4 1155.3 L1097.1 1147 Z" fill="#f08080" stroke="#000" stroke-width="2.1" stroke-linejoin="miter" stroke-miterlimit="6"/>
<path d="M1165.2 1138.7 L1173.5 1147 L1165.2 1155.3 L1156.9 1147 Z" fill="#f08080" stroke="#000" stroke-width="2.1" stroke-linejoin="miter" stroke-miterlimit="6"/>
<line x1="806.4" y1="1105.36" x2="806.4" y2="1129.47" stroke="#000" stroke-width="3.2" />
<line x1="797.9" y1="1105.36" x2="814.9" y2="1105.36" stroke="#000" stroke-width="3.2" stroke-linecap="round"/>
<line x1="797.9" y1="1129.47" x2="814.9" y2="1129.47" stroke="#000" stroke-width="3.2" stroke-linecap="round"/>
<line x1="866.2" y1="1111.57" x2="866.2" y2="1131.66" stroke="#000" stroke-width="3.2" />
<line x1="857.7" y1="1111.57" x2="874.7" y2="1111.57" stroke="#000" stroke-width="3.2" stroke-linecap="round"/>
<line x1="857.7" y1="1131.66" x2="874.7" y2="1131.66" stroke="#000" stroke-width="3.2" stroke-linecap="round"/>
<line x1="926" y1="1070.66" x2="926" y2="1101.71" stroke="#000" stroke-width="3.2" />
<line x1="917.5" y1="1070.66" x2="934.5" y2="1070.66" stroke="#000" stroke-width="3.2" stroke-linecap="round"/>
<line x1="917.5" y1="1101.71" x2="934.5" y2="1101.71" stroke="#000" stroke-width="3.2" stroke-linecap="round"/>
<line x1="985.8" y1="1060.07" x2="985.8" y2="1106.82" stroke="#000" stroke-width="3.2" />
<line x1="977.3" y1="1060.07" x2="994.3" y2="1060.07" stroke="#000" stroke-width="3.2" stroke-linecap="round"/>
<line x1="977.3" y1="1106.82" x2="994.3" y2="1106.82" stroke="#000" stroke-width="3.2" stroke-linecap="round"/>
<line x1="1045.6" y1="1061.53" x2="1045.6" y2="1104.92" stroke="#000" stroke-width="3.2" />
<line x1="1037.1" y1="1061.53" x2="1054.1" y2="1061.53" stroke="#000" stroke-width="3.2" stroke-linecap="round"/>
<line x1="1037.1" y1="1104.92" x2="1054.1" y2="1104.92" stroke="#000" stroke-width="3.2" stroke-linecap="round"/>
<line x1="1105.4" y1="985.56" x2="1105.4" y2="1092.21" stroke="#000" stroke-width="3.2" />
<line x1="1096.9" y1="985.56" x2="1113.9" y2="985.56" stroke="#000" stroke-width="3.2" stroke-linecap="round"/>
<line x1="1096.9" y1="1092.21" x2="1113.9" y2="1092.21" stroke="#000" stroke-width="3.2" stroke-linecap="round"/>
<line x1="1165.2" y1="846.03" x2="1165.2" y2="1053.5" stroke="#000" stroke-width="3.2" />
<line x1="1156.7" y1="846.03" x2="1173.7" y2="846.03" stroke="#000" stroke-width="3.2" stroke-linecap="round"/>
<line x1="1156.7" y1="1053.5" x2="1173.7" y2="1053.5" stroke="#000" stroke-width="3.2" stroke-linecap="round"/>
<path d="M806.4 1117.41 L866.2 1121.07 L926 1090.02 L985.8 1084.54 L1045.6 1083.81 L1105.4 1038.89 L1165.2 949.76" fill="none" stroke="#000" stroke-width="3.2" stroke-linejoin="round" stroke-dasharray="12.5 5.5" />
<path d="M806.4 1109.11 L814.7 1117.41 L806.4 1125.71 L798.1 1117.41 Z" fill="#0a9245" stroke="#000" stroke-width="2.1" stroke-linejoin="miter" stroke-miterlimit="6"/>
<path d="M866.2 1112.77 L874.5 1121.07 L866.2 1129.37 L857.9 1121.07 Z" fill="#0a9245" stroke="#000" stroke-width="2.1" stroke-linejoin="miter" stroke-miterlimit="6"/>
<path d="M926 1081.72 L934.3 1090.02 L926 1098.32 L917.7 1090.02 Z" fill="#0a9245" stroke="#000" stroke-width="2.1" stroke-linejoin="miter" stroke-miterlimit="6"/>
<path d="M985.8 1076.24 L994.1 1084.54 L985.8 1092.84 L977.5 1084.54 Z" fill="#0a9245" stroke="#000" stroke-width="2.1" stroke-linejoin="miter" stroke-miterlimit="6"/>
<path d="M1045.6 1075.51 L1053.9 1083.81 L1045.6 1092.11 L1037.3 1083.81 Z" fill="#0a9245" stroke="#000" stroke-width="2.1" stroke-linejoin="miter" stroke-miterlimit="6"/>
<path d="M1105.4 1030.59 L1113.7 1038.89 L1105.4 1047.19 L1097.1 1038.89 Z" fill="#0a9245" stroke="#000" stroke-width="2.1" stroke-linejoin="miter" stroke-miterlimit="6"/>
<path d="M1165.2 941.47 L1173.5 949.76 L1165.2 958.06 L1156.9 949.76 Z" fill="#0a9245" stroke="#000" stroke-width="2.1" stroke-linejoin="miter" stroke-miterlimit="6"/>
<path d="M1184 929.2 L1197.6 929.2 L1197.6 950.4 L1184 950.4" fill="none" stroke="#222" stroke-width="3.2" stroke-linejoin="round"  stroke-linecap="round" stroke-linejoin="miter"/>
<text x="1206.1" y="951.9" font-size="29" text-anchor="start" font-weight="normal" fill="#000" >NS</text>
<line x1="800.3" y1="698.9" x2="833" y2="698.9" stroke="#000" stroke-width="3.6" stroke-linecap="round"/>
<circle cx="816.6" cy="698.9" r="13" fill="#000"/>
<text x="846.8" y="709.4" font-size="25" text-anchor="start" font-weight="normal" fill="#000" textLength="132" lengthAdjust="spacingAndGlyphs" >WT EV - EV</text>
<line x1="799" y1="743.9" x2="833.6" y2="743.9" stroke="#000" stroke-width="3.6" stroke-linecap="round"/>
<path d="M816.4 732 L828.3 743.9 L816.4 755.8 L804.5 743.9 Z" fill="#f08080" stroke="#000" stroke-width="2.5" stroke-linejoin="miter" stroke-miterlimit="6"/>
<text x="846.8" y="754.6" font-size="25" text-anchor="start" font-weight="normal" fill="#000" textLength="121" lengthAdjust="spacingAndGlyphs" >Jak1 Mut.2</text>
<line x1="796" y1="784.7" x2="841.7" y2="784.7" stroke="#000" stroke-width="3.8" stroke-dasharray="1.7 1.7"/>
<path d="M818.5 772.8 L830.4 784.7 L818.5 796.6 L806.6 784.7 Z" fill="#0a9245" stroke="#000" stroke-width="2.5" stroke-linejoin="miter" stroke-miterlimit="6"/>
<text x="846.8" y="794.8" font-size="25" text-anchor="start" font-weight="normal" fill="#000" textLength="201" lengthAdjust="spacingAndGlyphs" >Jak1 Mut.2 + Jak1</text>
</svg>
</body>
</html>
